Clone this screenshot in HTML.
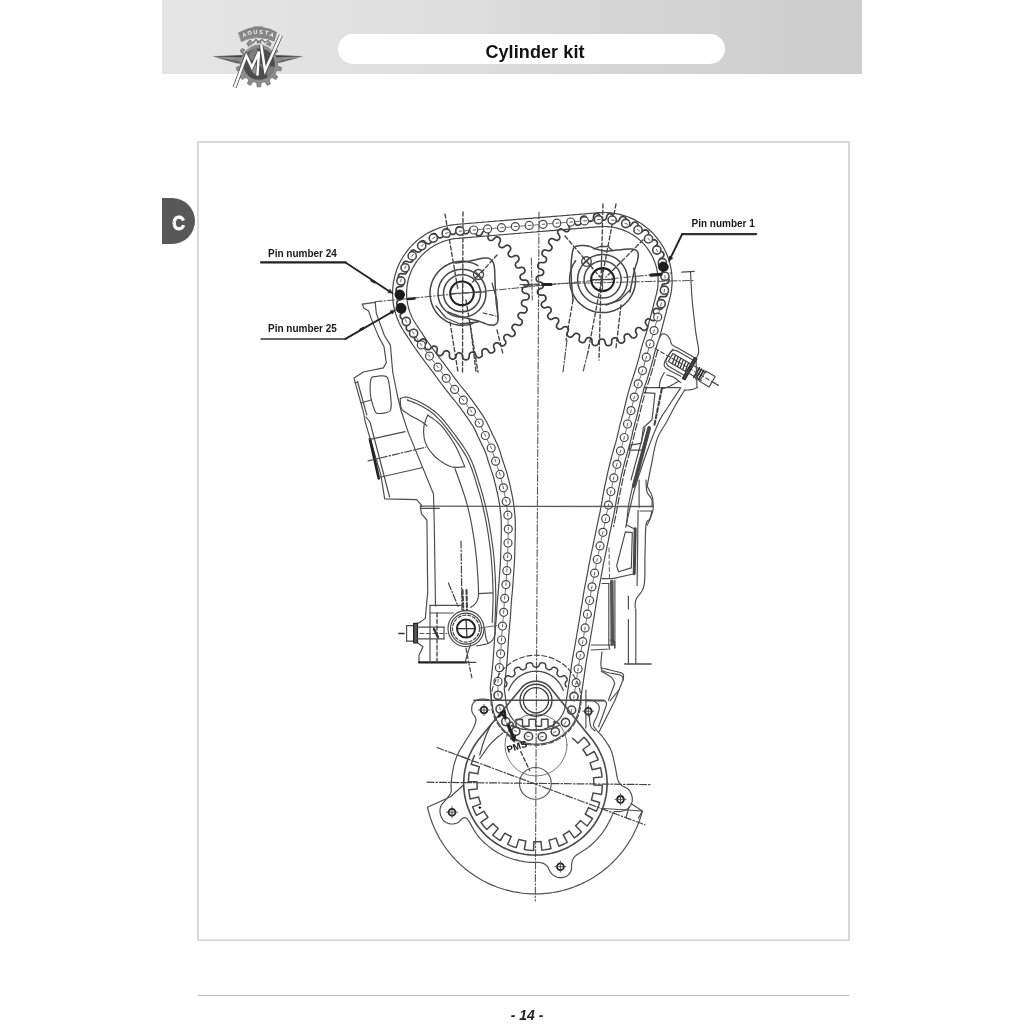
<!DOCTYPE html>
<html><head><meta charset="utf-8"><title>Cylinder kit</title>
<style>
html,body{margin:0;padding:0;background:#fff;}
body{width:1024px;height:1024px;position:relative;overflow:hidden;font-family:"Liberation Sans",sans-serif;}
.hdr{position:absolute;left:162px;top:0;width:700px;height:73.5px;background:linear-gradient(90deg,#e5e5e5 0%,#e0e0e0 35%,#d4d4d4 70%,#cdcdcd 100%);}
.pill{position:absolute;left:338px;top:34px;width:387px;height:30px;border-radius:15px;background:#fff;}
.title{position:absolute;left:338px;top:34px;width:387px;height:30px;line-height:36px;text-align:center;font-weight:bold;font-size:18px;color:#111;letter-spacing:0.1px;text-indent:7px;}
.tab{position:absolute;left:162px;top:197.7px;width:33px;height:46.4px;background:#585858;border-radius:0 23.2px 23.2px 0;}
.tab span{position:absolute;left:0;top:0;width:33px;height:46.4px;color:#fff;font-weight:bold;font-size:20.5px;line-height:49.4px;text-align:center;transform:scaleX(0.86);-webkit-text-stroke:0.8px #fff;}
.frame{position:absolute;left:197px;top:141px;width:651px;height:797px;border:1px solid #c9c9c9;background:#fff;}
.fline{position:absolute;left:197.5px;top:994.8px;width:651.5px;height:1.3px;background:#b9b9b9;}
.pg{position:absolute;left:427px;top:1005.6px;width:200px;text-align:center;font-size:14px;font-weight:bold;font-style:italic;color:#222;line-height:18px;}
.lbl,.title,.pg,.tab{filter:blur(0.35px);}
.lbl{position:absolute;font-weight:bold;font-size:10px;color:#1a1a1a;line-height:12px;white-space:nowrap;}
svg{position:absolute;left:0;top:0;}
</style></head><body>
<div class="hdr"></div>
<div class="pill"></div>
<div class="title">Cylinder kit</div>
<div class="tab"><span>C</span></div>
<div class="fline"></div>
<div class="pg">- 14 -</div>
<div class="lbl" style="left:268px;top:247.5px;">Pin number 24</div>
<div class="lbl" style="left:268px;top:322.8px;">Pin number 25</div>
<div class="lbl" style="left:691.5px;top:217.6px;">Pin number 1</div>
<svg width="1024" height="1024" viewBox="0 0 1024 1024" stroke-linecap="round" stroke-linejoin="round">
<defs><filter id="bl" x="0" y="0" width="1024" height="1024" filterUnits="userSpaceOnUse"><feGaussianBlur stdDeviation="0.75"/></filter><filter id="bl2" x="0" y="0" width="1024" height="1024" filterUnits="userSpaceOnUse"><feGaussianBlur stdDeviation="0.35"/></filter></defs>
<rect x="197.97" y="141.85" width="651.1" height="798.25" fill="none" stroke="#d5d5d5" stroke-width="1.8"/>
<!--LOGOSTART--><g filter="url(#bl2)"><polygon points="212.5,56 242,55.6 242,63.6 237,63.2" fill="#8e8e8e"/>
<polygon points="303.5,56 276,55.6 276,63 280,62.6" fill="#8e8e8e"/>
<polygon points="212,56.2 244,55.2 244,57 " fill="#2e2e2e"/>
<polygon points="304,56.2 275,55.2 275,57" fill="#2e2e2e"/>
<polygon points="214,57 242,61.5 242,63.8 236,63.2" fill="#5e5e5e" opacity="0.8"/>
<polygon points="302,57 276,61 276,63.2 281,62.6" fill="#5e5e5e" opacity="0.8"/>
<polygon points="277.7,65.9 281.7,67.5 281.0,70.8 276.6,70.5 275.0,73.8 277.9,77.0 275.8,79.7 272.0,77.5 269.2,79.8 270.4,84.0 267.3,85.4 264.9,81.9 261.3,82.7 260.6,86.9 257.2,86.9 256.5,82.6 253.0,81.8 250.5,85.4 247.4,83.9 248.7,79.7 245.9,77.5 242.1,79.6 240.0,76.9 242.9,73.7 241.3,70.4 237.0,70.7 236.2,67.4 240.3,65.7 240.3,62.1 236.3,60.5 237.0,57.2 241.4,57.5 243.0,54.2 240.1,51.0 242.2,48.3 246.0,50.5 248.8,48.2 247.6,44.0 250.7,42.6 253.1,46.1 256.7,45.3 257.4,41.1 260.8,41.1 261.5,45.4 265.0,46.2 267.5,42.6 270.6,44.1 269.3,48.3 272.1,50.5 275.9,48.4 278.0,51.1 275.1,54.3 276.7,57.6 281.0,57.3 281.8,60.6 277.7,62.3" fill="#8c8c8c" stroke="#6a6a6a" stroke-width="0.6"/>
<circle cx="259.0" cy="64.0" r="15.8" fill="#4e4e4e"/>
<path d="M259.2 63.4 L247 58 A15.8 15.8 0 0 1 257 47.8 Z" fill="#7d7d7d"/>
<path d="M259.2 63.4 L268 77 A15.8 15.8 0 0 0 274.5 67 Z" fill="#7d7d7d"/>
<path d="M250 70 L256 64 L257 76 Z" fill="#9a9a9a"/>
<path d="M244.5 52 A17.5 17.5 0 0 1 274.5 53" fill="none" stroke="#d8d8d8" stroke-width="1.4"/>
<path d="M238.6 32.8 Q248 28.2 253.5 27.6 L253.8 26.8 L262.6 26.8 L262.9 27.6 Q270 28.2 276.6 32.2 L274.2 41.2 Q266 37.6 258 37.6 Q249 37.8 241.6 41.6 Z" fill="#858585" stroke="#6f6f6f" stroke-width="0.5"/>
<text x="245.13" y="36.53" font-family="Liberation Sans, sans-serif" font-weight="bold" font-size="5.6" fill="#f4f4f4" text-anchor="middle" transform="rotate(-23.8 245.13 36.53)">A</text>
<text x="250.18" y="34.79" font-family="Liberation Sans, sans-serif" font-weight="bold" font-size="5.6" fill="#f4f4f4" text-anchor="middle" transform="rotate(-14.2 250.18 34.79)">G</text>
<text x="255.44" y="33.91" font-family="Liberation Sans, sans-serif" font-weight="bold" font-size="5.6" fill="#f4f4f4" text-anchor="middle" transform="rotate(-4.7 255.44 33.91)">U</text>
<text x="260.78" y="33.91" font-family="Liberation Sans, sans-serif" font-weight="bold" font-size="5.6" fill="#f4f4f4" text-anchor="middle" transform="rotate(4.8 260.78 33.91)">S</text>
<text x="266.05" y="34.80" font-family="Liberation Sans, sans-serif" font-weight="bold" font-size="5.6" fill="#f4f4f4" text-anchor="middle" transform="rotate(14.3 266.05 34.80)">T</text>
<text x="271.09" y="36.54" font-family="Liberation Sans, sans-serif" font-weight="bold" font-size="5.6" fill="#f4f4f4" text-anchor="middle" transform="rotate(23.8 271.09 36.54)">A</text>
<path d="M247 44 L250 40.5 L253 43 L256 39.5 L259 42 L262 39.5 L265 42.5 L268 40.5 L271 44" fill="none" stroke="#777" stroke-width="1.2"/>
<polyline points="234.6,87.4 246.3,55.6 251.9,67.4 259.0,51.6 257.4,75.6" fill="none" stroke="#4a4a4a" stroke-width="4.0" stroke-linejoin="miter" stroke-linecap="butt"/>
<polyline points="261.2,45.0 265.1,70.6 280.9,35.2" fill="none" stroke="#4a4a4a" stroke-width="4.0" stroke-linejoin="miter" stroke-linecap="butt"/>
<polyline points="234.6,87.4 246.3,55.6 251.9,67.4 259.0,51.6 257.4,75.6" fill="none" stroke="#fbfbfb" stroke-width="2.5" stroke-linejoin="miter" stroke-linecap="butt"/>
<polyline points="261.2,45.0 265.1,70.6 280.9,35.2" fill="none" stroke="#fbfbfb" stroke-width="2.5" stroke-linejoin="miter" stroke-linecap="butt"/></g><!--LOGOEND-->
<g filter="url(#bl)">
<path d="M539.0 212.0 L535.3 901.0" stroke="#5a5a5a" stroke-width="1.125" fill="none" stroke-dasharray="7 2 1.5 2" />
<path d="M375.0 301.8 L672.0 272.8" stroke="#555" stroke-width="1.0499999999999998" fill="none" stroke-dasharray="7 2 1.5 2" />
<path d="M520.0 284.6 L694.0 280.4" stroke="#555" stroke-width="1.0499999999999998" fill="none" stroke-dasharray="7 2 1.5 2" />
<path d="M531.3 258.0 L532.3 300.0" stroke="#555" stroke-width="1.0499999999999998" fill="none" stroke-dasharray="7 2 1.5 2" />
<path d="M445.0 214.0 L458.0 290.0" stroke="#444" stroke-width="1.35" fill="none" stroke-dasharray="4 2.5" />
<path d="M463.0 212.0 L462.5 372.0" stroke="#444" stroke-width="1.35" fill="none" stroke-dasharray="4 2.5" />
<path d="M466.0 300.0 L478.0 372.0" stroke="#444" stroke-width="1.35" fill="none" stroke-dasharray="4 2.5" />
<path d="M450.0 322.0 L458.0 372.0" stroke="#444" stroke-width="1.35" fill="none" stroke-dasharray="4 2.5" />
<path d="M470.0 322.0 L476.0 372.0" stroke="#444" stroke-width="1.35" fill="none" stroke-dasharray="4 2.5" />
<path d="M497.0 330.0 L503.0 354.0" stroke="#444" stroke-width="1.35" fill="none" stroke-dasharray="4 2.5" />
<path d="M497.0 255.0 L470.0 285.0" stroke="#444" stroke-width="1.35" fill="none" stroke-dasharray="4 2.5" />
<path d="M603.0 204.0 L599.0 360.0" stroke="#444" stroke-width="1.35" fill="none" stroke-dasharray="4 2.5" />
<path d="M616.0 204.0 L588.0 352.0" stroke="#444" stroke-width="1.35" fill="none" stroke-dasharray="4 2.5" />
<path d="M573.0 300.0 L566.0 340.0" stroke="#444" stroke-width="1.35" fill="none" stroke-dasharray="4 2.5" />
<path d="M621.0 305.0 L616.0 348.0" stroke="#444" stroke-width="1.35" fill="none" stroke-dasharray="4 2.5" />
<path d="M565.0 236.0 L600.0 277.0" stroke="#444" stroke-width="1.35" fill="none" stroke-dasharray="4 2.5" />
<path d="M643.0 240.0 L606.0 277.0" stroke="#444" stroke-width="1.35" fill="none" stroke-dasharray="4 2.5" />
<path d="M539.0 285.0 L523.0 285.0" stroke="#444" stroke-width="1.35" fill="none" stroke-dasharray="4 2.5" />
<path d="M567.0 340.0 L563.0 372.0" stroke="#555" stroke-width="1.2000000000000002" fill="none" stroke-dasharray="7 2 1.5 2" />
<path d="M588.0 352.0 L583.0 372.0" stroke="#555" stroke-width="1.2000000000000002" fill="none" stroke-dasharray="7 2 1.5 2" />
<path d="M525.7 293.3 L526.8 293.5 L527.8 293.9 L528.5 294.6 L529.0 295.6 L529.1 296.8 L528.9 298.0 L528.3 298.9 L527.5 299.5 L526.4 299.8 L525.4 299.9 L524.3 300.0 L523.2 300.2 L522.4 300.8 L521.8 301.6 L521.5 302.6 L521.5 303.7 L521.8 304.7 L522.4 305.5 L523.3 306.0 L524.3 306.4 L525.3 306.8 L526.2 307.4 L526.8 308.3 L527.1 309.3 L526.9 310.5 L526.4 311.6 L525.7 312.5 L524.7 312.9 L523.7 312.9 L522.6 312.8 L521.5 312.6 L520.5 312.7 L519.5 313.0 L518.8 313.7 L518.2 314.7 L518.0 315.7 L518.1 316.7 L518.6 317.6 L519.3 318.4 L520.2 319.0 L521.2 319.6 L521.9 320.3 L522.3 321.3 L522.3 322.4 L521.9 323.5 L521.2 324.5 L520.3 325.2 L519.3 325.4 L518.3 325.2 L517.2 324.9 L516.2 324.5 L515.2 324.3 L514.2 324.4 L513.3 325.0 L512.6 325.8 L512.1 326.7 L512.0 327.8 L512.3 328.7 L512.9 329.6 L513.6 330.4 L514.4 331.2 L515.0 332.1 L515.2 333.1 L515.0 334.2 L514.4 335.2 L513.5 336.0 L512.4 336.5 L511.4 336.5 L510.4 336.1 L509.5 335.5 L508.6 334.9 L507.6 334.5 L506.6 334.5 L505.6 334.8 L504.7 335.4 L504.1 336.3 L503.8 337.3 L503.8 338.3 L504.2 339.3 L504.8 340.2 L505.4 341.1 L505.8 342.1 L505.8 343.1 L505.3 344.2 L504.5 345.1 L503.5 345.7 L502.4 345.9 L501.4 345.7 L500.5 345.1 L499.7 344.3 L498.9 343.6 L498.0 343.0 L497.1 342.7 L496.0 342.8 L495.1 343.3 L494.3 344.0 L493.7 344.9 L493.6 345.9 L493.8 346.9 L494.1 347.9 L494.5 349.0 L494.7 350.0 L494.5 351.0 L493.8 351.9 L492.8 352.6 L491.7 353.0 L490.6 353.0 L489.6 352.6 L488.9 351.9 L488.3 350.9 L487.7 350.0 L486.9 349.3 L486.0 348.8 L485.0 348.7 L484.0 348.9 L483.0 349.5 L482.3 350.2 L482.0 351.2 L481.9 352.2 L482.1 353.3 L482.2 354.4 L482.2 355.4 L481.8 356.4 L480.9 357.1 L479.8 357.6 L478.6 357.8 L477.6 357.5 L476.7 356.9 L476.1 356.0 L475.7 355.0 L475.3 354.0 L474.8 353.1 L474.0 352.5 L473.0 352.2 L471.9 352.2 L470.9 352.5 L470.1 353.1 L469.5 353.9 L469.3 355.0 L469.2 356.1 L469.1 357.1 L468.8 358.2 L468.2 359.0 L467.3 359.6 L466.1 359.8 L464.9 359.7 L463.9 359.2 L463.2 358.5 L462.8 357.5 L462.6 356.4 L462.4 355.3 L462.1 354.3 L461.4 353.6 L460.5 353.0 L459.5 352.8 L458.4 352.9 L457.5 353.3 L456.8 354.1 L456.3 355.0 L456.0 356.1 L455.7 357.1 L455.2 358.0 L454.4 358.7 L453.4 359.1 L452.2 359.1 L451.0 358.7 L450.1 358.0 L449.6 357.2 L449.4 356.1 L449.5 355.0 L449.5 353.9 L449.4 352.9 L448.9 352.0 L448.2 351.3 L447.2 350.9 L446.1 350.7 L445.1 351.0 L444.3 351.5 L443.6 352.3 L443.1 353.3 L442.6 354.3 L441.9 355.1 L441.0 355.6 L439.9 355.7 L438.7 355.5 L437.7 354.9 L437.0 354.0 L436.6 353.1 L436.7 352.0 L436.9 350.9 L437.2 349.9 L437.3 348.8 L437.0 347.9 L436.4 347.0 L435.5 346.4 L434.5 346.1 L433.5 346.1 L432.6 346.4 L431.8 347.1 L431.1 347.9 L430.3 348.8 L429.5 349.4 L428.5 349.7 L427.4 349.7 L426.3 349.2 L425.4 348.4 L424.9 347.4 L424.8 346.4 L425.0 345.3 L425.5 344.3 L426.0 343.4 L426.3 342.4 L426.2 341.4 L425.8 340.4 L425.1 339.6 L424.2 339.1 L423.1 338.9 L422.2 339.0 L421.2 339.5 L420.4 340.2 L419.5 340.9 L418.6 341.3 L417.5 341.4 L416.5 341.1 L415.5 340.4 L414.8 339.4 L414.5 338.4 L414.6 337.3 L415.0 336.4 L415.7 335.5 L416.4 334.7 L416.9 333.7 L417.0 332.8 L416.8 331.7 L416.3 330.8 L415.5 330.1 L414.5 329.7 L413.5 329.6 L412.5 329.9 L411.6 330.4 L410.6 330.9 L409.5 331.1 L408.5 331.0 L407.5 330.5 L406.7 329.6 L406.2 328.5 L406.2 327.4 L406.5 326.4 L407.1 325.6 L408.0 324.9 L408.8 324.1 L409.5 323.3 L409.8 322.4 L409.8 321.4 L409.5 320.4 L408.9 319.5 L408.0 318.9 L407.1 318.6 L406.0 318.7 L405.0 319.0 L403.9 319.2 L402.8 319.3 L401.9 318.9 L401.0 318.2 L400.4 317.2 L400.2 316.0 L400.3 314.9 L400.8 314.0 L401.6 313.3 L402.6 312.8 L403.6 312.3 L404.4 311.6 L404.9 310.8 L405.2 309.8 L405.0 308.7 L404.6 307.7 L403.9 307.0 L403.0 306.5 L402.0 306.4 L400.9 306.4 L399.8 306.5 L398.7 306.3 L397.9 305.8 L397.2 304.9 L396.8 303.7 L396.8 302.5 L397.2 301.5 L397.9 300.7 L398.8 300.2 L399.8 299.9 L400.9 299.6 L401.8 299.1 L402.6 298.4 L403.0 297.5 L403.1 296.4 L402.9 295.4 L402.3 294.5 L401.6 293.8 L400.6 293.5 L399.5 293.3 L398.4 293.1 L397.4 292.7 L396.7 292.0 L396.2 291.0 L396.1 289.8 L396.3 288.6 L396.9 287.7 L397.7 287.1 L398.8 286.8 L399.8 286.7 L400.9 286.6 L402.0 286.4 L402.8 285.8 L403.4 285.0 L403.7 284.0 L403.7 282.9 L403.4 281.9 L402.8 281.1 L401.9 280.6 L400.9 280.2 L399.9 279.8 L399.0 279.2 L398.4 278.3 L398.1 277.3 L398.3 276.1 L398.8 275.0 L399.5 274.1 L400.5 273.7 L401.5 273.7 L402.6 273.8 L403.7 274.0 L404.7 273.9 L405.7 273.6 L406.4 272.9 L407.0 271.9 L407.2 270.9 L407.1 269.9 L406.6 269.0 L405.9 268.2 L405.0 267.6 L404.0 267.0 L403.3 266.3 L402.9 265.3 L402.9 264.2 L403.3 263.1 L404.0 262.1 L404.9 261.4 L405.9 261.2 L406.9 261.4 L408.0 261.8 L409.0 262.1 L410.0 262.3 L411.0 262.2 L411.9 261.6 L412.6 260.8 L413.1 259.9 L413.2 258.8 L412.9 257.9 L412.3 257.0 L411.6 256.2 L410.8 255.4 L410.2 254.5 L410.0 253.5 L410.2 252.4 L410.8 251.4 L411.7 250.6 L412.8 250.1 L413.8 250.1 L414.8 250.5 L415.7 251.1 L416.6 251.7 L417.6 252.1 L418.6 252.1 L419.6 251.8 L420.5 251.2 L421.1 250.3 L421.4 249.3 L421.4 248.3 L421.0 247.3 L420.4 246.4 L419.8 245.5 L419.4 244.5 L419.4 243.5 L419.9 242.4 L420.7 241.5 L421.7 240.9 L422.8 240.7 L423.8 240.9 L424.7 241.5 L425.5 242.3 L426.3 243.0 L427.2 243.6 L428.1 243.9 L429.2 243.8 L430.1 243.3 L430.9 242.6 L431.5 241.7 L431.6 240.7 L431.4 239.7 L431.1 238.7 L430.7 237.6 L430.5 236.6 L430.7 235.6 L431.4 234.7 L432.4 234.0 L433.5 233.6 L434.6 233.6 L435.6 234.0 L436.3 234.7 L436.9 235.7 L437.5 236.6 L438.3 237.3 L439.2 237.8 L440.2 237.9 L441.2 237.7 L442.2 237.1 L442.9 236.4 L443.2 235.4 L443.3 234.4 L443.1 233.3 L443.0 232.2 L443.0 231.2 L443.4 230.2 L444.3 229.5 L445.4 229.0 L446.6 228.8 L447.6 229.1 L448.5 229.7 L449.1 230.6 L449.5 231.6 L449.9 232.6 L450.4 233.5 L451.2 234.1 L452.2 234.4 L453.3 234.4 L454.3 234.1 L455.1 233.5 L455.7 232.7 L455.9 231.6 L456.0 230.5 L456.1 229.5 L456.4 228.4 L457.0 227.6 L457.9 227.0 L459.1 226.8 L460.3 226.9 L461.3 227.4 L462.0 228.1 L462.4 229.1 L462.6 230.2 L462.8 231.3 L463.1 232.3 L463.8 233.0 L464.7 233.6 L465.7 233.8 L466.8 233.7 L467.7 233.3 L468.4 232.5 L468.9 231.6 L469.2 230.5 L469.5 229.5 L470.0 228.6 L470.8 227.9 L471.8 227.5 L473.0 227.5 L474.2 227.9 L475.1 228.6 L475.6 229.4 L475.8 230.5 L475.7 231.6 L475.7 232.7 L475.8 233.7 L476.3 234.6 L477.0 235.3 L478.0 235.7 L479.1 235.9 L480.1 235.6 L480.9 235.1 L481.6 234.3 L482.1 233.3 L482.6 232.3 L483.3 231.5 L484.2 231.0 L485.3 230.9 L486.5 231.1 L487.5 231.7 L488.2 232.6 L488.6 233.5 L488.5 234.6 L488.3 235.7 L488.0 236.7 L487.9 237.8 L488.2 238.7 L488.8 239.6 L489.7 240.2 L490.7 240.5 L491.7 240.5 L492.6 240.2 L493.4 239.5 L494.2 238.7 L494.9 237.8 L495.7 237.2 L496.7 236.9 L497.8 236.9 L498.9 237.4 L499.8 238.2 L500.3 239.2 L500.4 240.2 L500.2 241.3 L499.7 242.3 L499.2 243.2 L498.9 244.2 L499.0 245.2 L499.4 246.2 L500.1 247.0 L501.0 247.5 L502.1 247.7 L503.0 247.6 L504.0 247.1 L504.8 246.4 L505.7 245.7 L506.6 245.3 L507.7 245.2 L508.7 245.5 L509.7 246.2 L510.4 247.2 L510.7 248.2 L510.6 249.3 L510.2 250.2 L509.5 251.1 L508.8 251.9 L508.3 252.9 L508.2 253.8 L508.4 254.9 L508.9 255.8 L509.7 256.5 L510.7 256.9 L511.7 257.0 L512.7 256.7 L513.6 256.2 L514.6 255.7 L515.7 255.5 L516.7 255.6 L517.7 256.1 L518.5 257.0 L519.0 258.1 L519.0 259.2 L518.7 260.2 L518.1 261.0 L517.2 261.8 L516.4 262.5 L515.7 263.3 L515.4 264.2 L515.4 265.2 L515.7 266.2 L516.3 267.1 L517.2 267.7 L518.1 268.0 L519.2 267.9 L520.2 267.6 L521.3 267.4 L522.4 267.3 L523.3 267.7 L524.2 268.4 L524.8 269.4 L525.0 270.6 L524.9 271.7 L524.4 272.6 L523.6 273.3 L522.6 273.8 L521.6 274.3 L520.8 275.0 L520.3 275.8 L520.0 276.8 L520.2 277.9 L520.6 278.9 L521.3 279.6 L522.2 280.1 L523.2 280.2 L524.3 280.2 L525.4 280.1 L526.5 280.3 L527.3 280.8 L528.0 281.7 L528.4 282.9 L528.4 284.1 L528.0 285.1 L527.3 285.9 L526.4 286.4 L525.4 286.7 L524.3 287.0 L523.4 287.5 L522.6 288.2 L522.2 289.1 L522.1 290.2 L522.3 291.2 L522.9 292.1 L523.6 292.8 L524.6 293.1 L525.7 293.3" stroke="#3c3c3c" stroke-width="1.6800000000000002" fill="none" />
<path d="M668.8 279.0 L669.0 280.2 L668.9 281.4 L668.4 282.4 L667.6 283.1 L666.6 283.5 L665.6 283.7 L664.5 283.8 L663.4 284.0 L662.6 284.5 L662.0 285.3 L661.6 286.3 L661.6 287.4 L661.9 288.4 L662.5 289.2 L663.4 289.8 L664.4 290.1 L665.5 290.5 L666.4 291.0 L667.1 291.8 L667.4 292.8 L667.4 294.0 L667.0 295.1 L666.4 296.0 L665.5 296.6 L664.4 296.7 L663.3 296.7 L662.3 296.5 L661.2 296.6 L660.3 296.9 L659.5 297.5 L658.9 298.5 L658.7 299.5 L658.8 300.6 L659.2 301.5 L659.9 302.2 L660.9 302.8 L661.8 303.3 L662.6 304.0 L663.1 304.9 L663.3 306.0 L663.0 307.2 L662.4 308.2 L661.5 308.9 L660.6 309.3 L659.5 309.2 L658.5 308.9 L657.4 308.6 L656.4 308.4 L655.4 308.5 L654.5 309.0 L653.8 309.8 L653.3 310.7 L653.2 311.8 L653.4 312.8 L654.0 313.6 L654.8 314.4 L655.6 315.1 L656.2 316.0 L656.5 316.9 L656.5 318.0 L656.0 319.1 L655.1 320.0 L654.2 320.6 L653.1 320.7 L652.1 320.4 L651.2 319.9 L650.2 319.3 L649.2 318.9 L648.2 318.8 L647.3 319.1 L646.4 319.7 L645.7 320.6 L645.4 321.6 L645.4 322.6 L645.8 323.6 L646.4 324.5 L647.0 325.4 L647.5 326.3 L647.6 327.3 L647.3 328.4 L646.6 329.3 L645.6 330.0 L644.5 330.4 L643.5 330.3 L642.6 329.8 L641.7 329.1 L640.9 328.4 L640.0 327.8 L639.1 327.5 L638.1 327.5 L637.1 328.0 L636.3 328.7 L635.7 329.6 L635.6 330.6 L635.7 331.6 L636.1 332.6 L636.6 333.6 L636.8 334.6 L636.7 335.7 L636.2 336.6 L635.3 337.4 L634.2 337.9 L633.0 338.0 L632.0 337.7 L631.2 337.0 L630.6 336.2 L629.9 335.3 L629.2 334.5 L628.3 334.0 L627.3 333.9 L626.3 334.1 L625.3 334.6 L624.6 335.4 L624.2 336.3 L624.2 337.3 L624.4 338.4 L624.6 339.5 L624.6 340.5 L624.3 341.5 L623.6 342.3 L622.5 342.9 L621.4 343.2 L620.2 343.0 L619.3 342.5 L618.7 341.7 L618.2 340.7 L617.8 339.7 L617.2 338.8 L616.5 338.2 L615.5 337.8 L614.4 337.8 L613.4 338.1 L612.5 338.7 L612.0 339.6 L611.7 340.6 L611.7 341.6 L611.7 342.7 L611.5 343.8 L610.9 344.7 L610.1 345.3 L608.9 345.7 L607.7 345.7 L606.7 345.3 L605.9 344.6 L605.4 343.7 L605.2 342.6 L604.9 341.6 L604.6 340.6 L604.0 339.8 L603.1 339.2 L602.1 339.0 L601.0 339.1 L600.0 339.5 L599.3 340.2 L598.8 341.1 L598.6 342.2 L598.3 343.2 L597.9 344.2 L597.2 345.0 L596.2 345.5 L595.1 345.6 L593.9 345.3 L592.9 344.7 L592.3 343.9 L592.0 342.9 L592.0 341.8 L592.0 340.7 L591.9 339.7 L591.4 338.7 L590.7 338.0 L589.7 337.6 L588.6 337.5 L587.6 337.7 L586.8 338.2 L586.1 339.0 L585.7 340.0 L585.2 341.0 L584.6 341.8 L583.8 342.4 L582.7 342.7 L581.5 342.6 L580.4 342.1 L579.6 341.3 L579.1 340.3 L579.1 339.3 L579.3 338.2 L579.5 337.2 L579.6 336.1 L579.4 335.1 L578.8 334.3 L577.9 333.6 L576.9 333.3 L575.9 333.3 L574.9 333.6 L574.2 334.3 L573.5 335.1 L572.8 336.0 L572.0 336.7 L571.1 337.2 L570.0 337.2 L568.9 336.8 L567.9 336.1 L567.3 335.2 L567.0 334.1 L567.2 333.1 L567.6 332.1 L568.1 331.1 L568.4 330.1 L568.3 329.1 L568.0 328.1 L567.2 327.3 L566.3 326.8 L565.3 326.5 L564.3 326.7 L563.4 327.2 L562.6 327.9 L561.7 328.6 L560.8 329.1 L559.8 329.3 L558.8 329.1 L557.7 328.5 L556.9 327.6 L556.5 326.6 L556.5 325.6 L556.8 324.6 L557.5 323.7 L558.1 322.8 L558.6 321.9 L558.8 320.9 L558.6 319.9 L558.1 318.9 L557.3 318.2 L556.4 317.8 L555.4 317.7 L554.4 318.0 L553.4 318.5 L552.4 319.0 L551.4 319.4 L550.4 319.4 L549.4 318.9 L548.5 318.1 L547.9 317.1 L547.7 316.0 L547.9 315.0 L548.5 314.1 L549.3 313.3 L550.1 312.6 L550.8 311.8 L551.2 310.9 L551.2 309.9 L550.9 308.8 L550.3 307.9 L549.4 307.3 L548.5 307.0 L547.4 307.1 L546.4 307.4 L545.3 307.7 L544.3 307.9 L543.3 307.7 L542.4 307.0 L541.7 306.1 L541.3 304.9 L541.4 303.8 L541.8 302.8 L542.5 302.1 L543.4 301.5 L544.4 301.0 L545.2 300.3 L545.8 299.5 L546.0 298.5 L545.9 297.4 L545.5 296.4 L544.8 295.7 L544.0 295.2 L542.9 295.0 L541.8 295.1 L540.7 295.2 L539.7 295.1 L538.8 294.7 L538.0 293.9 L537.5 292.8 L537.4 291.6 L537.7 290.5 L538.3 289.7 L539.1 289.1 L540.2 288.7 L541.2 288.4 L542.2 287.9 L542.9 287.3 L543.3 286.3 L543.5 285.3 L543.3 284.2 L542.8 283.3 L542.0 282.7 L541.0 282.3 L539.9 282.1 L538.9 282.0 L537.8 281.7 L537.0 281.1 L536.4 280.2 L536.2 279.0 L536.3 277.8 L536.8 276.8 L537.6 276.1 L538.6 275.7 L539.6 275.5 L540.7 275.4 L541.8 275.2 L542.6 274.7 L543.2 273.9 L543.6 272.9 L543.6 271.8 L543.3 270.8 L542.7 270.0 L541.8 269.4 L540.8 269.1 L539.7 268.7 L538.8 268.2 L538.1 267.4 L537.8 266.4 L537.8 265.2 L538.2 264.1 L538.8 263.2 L539.7 262.6 L540.8 262.5 L541.9 262.5 L542.9 262.7 L544.0 262.6 L544.9 262.3 L545.7 261.7 L546.3 260.7 L546.5 259.7 L546.4 258.6 L546.0 257.7 L545.3 257.0 L544.3 256.4 L543.4 255.9 L542.6 255.2 L542.1 254.3 L541.9 253.2 L542.2 252.0 L542.8 251.0 L543.7 250.3 L544.6 249.9 L545.7 250.0 L546.7 250.3 L547.8 250.6 L548.8 250.8 L549.8 250.7 L550.7 250.2 L551.4 249.4 L551.9 248.5 L552.0 247.4 L551.8 246.4 L551.2 245.6 L550.4 244.8 L549.6 244.1 L549.0 243.2 L548.7 242.3 L548.7 241.2 L549.2 240.1 L550.1 239.2 L551.0 238.6 L552.1 238.5 L553.1 238.8 L554.0 239.3 L555.0 239.9 L556.0 240.3 L557.0 240.4 L557.9 240.1 L558.8 239.5 L559.5 238.6 L559.8 237.6 L559.8 236.6 L559.4 235.6 L558.8 234.7 L558.2 233.8 L557.7 232.9 L557.6 231.9 L557.9 230.8 L558.6 229.9 L559.6 229.2 L560.7 228.8 L561.7 228.9 L562.6 229.4 L563.5 230.1 L564.3 230.8 L565.2 231.4 L566.1 231.7 L567.1 231.7 L568.1 231.2 L568.9 230.5 L569.5 229.6 L569.6 228.6 L569.5 227.6 L569.1 226.6 L568.6 225.6 L568.4 224.6 L568.5 223.5 L569.0 222.6 L569.9 221.8 L571.0 221.3 L572.2 221.2 L573.2 221.5 L574.0 222.2 L574.6 223.0 L575.3 223.9 L576.0 224.7 L576.9 225.2 L577.9 225.3 L578.9 225.1 L579.9 224.6 L580.6 223.8 L581.0 222.9 L581.0 221.9 L580.8 220.8 L580.6 219.7 L580.6 218.7 L580.9 217.7 L581.6 216.9 L582.7 216.3 L583.8 216.0 L585.0 216.2 L585.9 216.7 L586.5 217.5 L587.0 218.5 L587.4 219.5 L588.0 220.4 L588.7 221.0 L589.7 221.4 L590.8 221.4 L591.8 221.1 L592.7 220.5 L593.2 219.6 L593.5 218.6 L593.5 217.6 L593.5 216.5 L593.7 215.4 L594.3 214.5 L595.1 213.9 L596.3 213.5 L597.5 213.5 L598.5 213.9 L599.3 214.6 L599.8 215.5 L600.0 216.6 L600.3 217.6 L600.6 218.6 L601.2 219.4 L602.1 220.0 L603.1 220.2 L604.2 220.1 L605.2 219.7 L605.9 219.0 L606.4 218.1 L606.6 217.0 L606.9 216.0 L607.3 215.0 L608.0 214.2 L609.0 213.7 L610.1 213.6 L611.3 213.9 L612.3 214.5 L612.9 215.3 L613.2 216.3 L613.2 217.4 L613.2 218.5 L613.3 219.5 L613.8 220.5 L614.5 221.2 L615.5 221.6 L616.6 221.7 L617.6 221.5 L618.4 221.0 L619.1 220.2 L619.5 219.2 L620.0 218.2 L620.6 217.4 L621.4 216.8 L622.5 216.5 L623.7 216.6 L624.8 217.1 L625.6 217.9 L626.1 218.9 L626.1 219.9 L625.9 221.0 L625.7 222.0 L625.6 223.1 L625.8 224.1 L626.4 224.9 L627.3 225.6 L628.3 225.9 L629.3 225.9 L630.3 225.6 L631.0 224.9 L631.7 224.1 L632.4 223.2 L633.2 222.5 L634.1 222.0 L635.2 222.0 L636.3 222.4 L637.3 223.1 L637.9 224.0 L638.2 225.1 L638.0 226.1 L637.6 227.1 L637.1 228.1 L636.8 229.1 L636.9 230.1 L637.2 231.1 L638.0 231.9 L638.9 232.4 L639.9 232.7 L640.9 232.5 L641.8 232.0 L642.6 231.3 L643.5 230.6 L644.4 230.1 L645.4 229.9 L646.4 230.1 L647.5 230.7 L648.3 231.6 L648.7 232.6 L648.7 233.6 L648.4 234.6 L647.7 235.5 L647.1 236.4 L646.6 237.3 L646.4 238.3 L646.6 239.3 L647.1 240.3 L647.9 241.0 L648.8 241.4 L649.8 241.5 L650.8 241.2 L651.8 240.7 L652.8 240.2 L653.8 239.8 L654.8 239.8 L655.8 240.3 L656.7 241.1 L657.3 242.1 L657.5 243.2 L657.3 244.2 L656.7 245.1 L655.9 245.9 L655.1 246.6 L654.4 247.4 L654.0 248.3 L654.0 249.3 L654.3 250.4 L654.9 251.3 L655.8 251.9 L656.7 252.2 L657.8 252.1 L658.8 251.8 L659.9 251.5 L660.9 251.3 L661.9 251.5 L662.8 252.2 L663.5 253.1 L663.9 254.3 L663.8 255.4 L663.4 256.4 L662.7 257.1 L661.8 257.7 L660.8 258.2 L660.0 258.9 L659.4 259.7 L659.2 260.7 L659.3 261.8 L659.7 262.8 L660.4 263.5 L661.2 264.0 L662.3 264.2 L663.4 264.1 L664.5 264.0 L665.5 264.1 L666.4 264.5 L667.2 265.3 L667.7 266.4 L667.8 267.6 L667.5 268.7 L666.9 269.5 L666.1 270.1 L665.0 270.5 L664.0 270.8 L663.0 271.3 L662.3 271.9 L661.9 272.9 L661.7 273.9 L661.9 275.0 L662.4 275.9 L663.2 276.5 L664.2 276.9 L665.3 277.1 L666.3 277.2 L667.4 277.5 L668.2 278.1 L668.8 279.0" stroke="#3c3c3c" stroke-width="1.6800000000000002" fill="none" />
<circle cx="462.0" cy="293.3" r="11.8" stroke="#222" stroke-width="2.0999999999999996" fill="none"/>
<circle cx="462.0" cy="293.3" r="18.5" stroke="#474747" stroke-width="1.5" fill="none"/>
<circle cx="462.0" cy="293.3" r="24.0" stroke="#474747" stroke-width="1.5" fill="none"/>
<path d="M472.9 323.4 L470.5 324.2 L468.0 324.7 L465.5 325.1 L462.9 325.3 L460.3 325.3 L457.8 325.0 L455.2 324.6 L452.8 323.9 L450.3 323.1 L448.0 322.1 L445.7 320.8 L443.6 319.4 L441.5 317.9 L439.6 316.2 L437.8 314.3 L436.2 312.3 L434.8 310.2 L433.5 307.9 L432.5 305.6 L431.6 303.2 L430.9 300.7 L430.4 298.2 L430.1 295.6 L430.0 293.1 L430.1 290.5 L430.4 288.0 L431.0 285.5 L431.7 283.0 L432.6 280.6 L433.7 278.3 L435.0 276.1 L436.5 274.0 L438.1 272.0 L439.9 270.1 L441.9 268.4 L443.9 266.9 L446.1 265.5 L448.4 264.3 L450.7 263.3 L453.2 262.5 L455.7 261.9 L458.2 261.5 L460.8 261.3 L463.3 261.3 L465.9 261.5 L468.4 262.0 L470.9 262.6 L473.4 263.4 L475.7 264.4 L478.0 265.6" stroke="#474747" stroke-width="1.5" fill="none" />
<path d="M455.0 263.0 L456.2 262.9 L457.7 262.7 L459.6 262.4 L461.6 262.2 L463.8 261.9 L466.0 261.6 L468.1 261.3 L470.0 261.0 L471.9 260.6 L473.8 260.2 L475.7 259.8 L477.6 259.3 L479.4 258.9 L481.1 258.5 L482.6 258.2 L484.0 258.0 L485.1 257.9 L486.1 257.9 L486.9 257.9 L487.6 257.9 L488.2 258.1 L488.8 258.3 L489.4 258.6 L490.0 259.0 L490.6 259.4 L491.2 259.9 L491.8 260.5 L492.3 261.1 L492.8 261.9 L493.3 262.8 L493.7 263.8 L494.0 265.0 L494.3 266.4 L494.5 268.0 L494.6 269.7 L494.7 271.6 L494.8 273.6 L494.8 275.7 L494.9 277.8 L495.0 280.0 L495.1 282.3 L495.2 284.7 L495.3 287.2 L495.4 289.8 L495.6 292.4 L495.7 295.0 L495.8 297.6 L496.0 300.0 L496.2 302.4 L496.5 304.9 L496.9 307.4 L497.2 309.9 L497.5 312.2 L497.8 314.4 L497.9 316.3 L498.0 318.0 L498.0 319.4 L497.9 320.5 L497.7 321.3 L497.5 322.1 L497.2 322.6 L496.9 323.1 L496.5 323.6 L496.0 324.0 L495.5 324.4 L494.9 324.7 L494.3 325.0 L493.6 325.1 L492.9 325.2 L492.0 325.2 L491.1 325.1 L490.0 325.0 L488.8 324.7 L487.5 324.4 L486.1 323.9 L484.6 323.3 L483.1 322.7 L481.4 322.1 L479.7 321.5 L478.0 321.0 L476.2 320.5 L474.2 320.0 L472.2 319.5 L470.1 319.1 L468.0 318.6 L466.0 318.1 L463.9 317.5 L462.0 317.0 L460.1 316.4 L458.0 315.7 L456.0 315.0 L454.0 314.2 L452.1 313.6 L450.5 312.9 L449.1 312.4 L448.0 312.0" stroke="#474747" stroke-width="1.5" fill="none" />
<path d="M492.0 283.0 L497.0 300.0 L498.0 318.0" stroke="#474747" stroke-width="1.2000000000000002" fill="none" />
<circle cx="478.5" cy="274.5" r="5.0" stroke="#474747" stroke-width="1.35" fill="none"/>
<path d="M475.0 271.0 L482.0 278.0" stroke="#474747" stroke-width="1.0499999999999998" fill="none" />
<path d="M475.0 278.0 L482.0 271.0" stroke="#474747" stroke-width="1.0499999999999998" fill="none" />
<path d="M452.0 293.5 L486.0 292.0" stroke="#444" stroke-width="1.0499999999999998" fill="none" />
<path d="M462.5 283.0 L462.5 304.0" stroke="#444" stroke-width="1.0499999999999998" fill="none" />
<path d="M436.0 306.0 L446.0 318.0 L460.0 324.0 L478.0 322.0" stroke="#474747" stroke-width="1.35" fill="none" />
<path d="M483.0 313.0 L496.0 316.0" stroke="#444" stroke-width="1.2000000000000002" fill="none" stroke-dasharray="4 2.5" />
<circle cx="602.6" cy="279.6" r="11.5" stroke="#222" stroke-width="2.0999999999999996" fill="none"/>
<circle cx="602.6" cy="279.6" r="18.5" stroke="#474747" stroke-width="1.5" fill="none"/>
<circle cx="602.6" cy="279.6" r="25.0" stroke="#474747" stroke-width="1.5" fill="none"/>
<path d="M633.6 268.3 L634.4 270.9 L635.0 273.5 L635.4 276.2 L635.6 278.9 L635.5 281.6 L635.3 284.3 L634.8 287.0 L634.1 289.6 L633.1 292.1 L632.0 294.6 L630.7 296.9 L629.2 299.2 L627.5 301.3 L625.6 303.3 L623.6 305.1 L621.4 306.7 L619.1 308.1 L616.8 309.4 L614.3 310.5 L611.7 311.3 L609.1 312.0 L606.4 312.4 L603.7 312.6 L601.0 312.6 L598.3 312.3 L595.6 311.9 L593.0 311.2 L590.5 310.3 L588.0 309.2 L585.6 307.9 L583.3 306.4 L581.2 304.7 L579.2 302.9 L577.4 300.9 L575.7 298.8 L574.3 296.5 L573.0 294.1 L571.9 291.6 L571.0 289.1 L570.3 286.5 L569.9 283.8 L569.6 281.1 L569.6 278.4 L569.8 275.7 L570.3 273.0 L570.9 270.4 L571.8 267.8 L572.8 265.3 L574.1 263.0 L575.6 260.7" stroke="#474747" stroke-width="1.5" fill="none" />
<path d="M573.0 300.0 L572.8 297.6 L572.5 294.4 L572.2 290.5 L571.9 286.2 L571.5 281.8 L571.3 277.5 L571.1 273.5 L571.0 270.0 L571.0 266.9 L571.1 263.9 L571.3 261.1 L571.6 258.4 L571.9 255.9 L572.2 253.6 L572.6 251.7 L573.0 250.0 L573.4 248.7 L573.9 247.8 L574.4 247.2 L575.0 246.8 L575.6 246.5 L576.3 246.3 L577.1 246.2 L578.0 246.0 L579.0 245.8 L580.2 245.6 L581.5 245.6 L582.8 245.6 L584.2 245.6 L585.5 245.7 L586.8 245.8 L588.0 246.0 L589.1 246.2 L590.1 246.6 L591.1 246.9 L592.0 247.4 L592.9 247.8 L593.9 248.2 L594.9 248.7 L596.0 249.0 L597.1 249.3 L598.3 249.6 L599.5 250.0 L600.8 250.2 L602.0 250.5 L603.3 250.7 L604.6 250.9 L606.0 251.0 L607.4 251.0 L608.9 251.0 L610.4 250.8 L611.9 250.7 L613.4 250.5 L615.0 250.3 L616.5 250.1 L618.0 250.0 L619.5 249.9 L621.1 249.7 L622.7 249.5 L624.3 249.3 L625.9 249.2 L627.4 249.0 L628.7 249.0 L630.0 249.0 L631.2 249.1 L632.2 249.2 L633.3 249.3 L634.2 249.5 L635.0 249.8 L635.8 250.1 L636.4 250.5 L637.0 251.0 L637.4 251.6 L637.8 252.2 L638.0 253.0 L638.2 253.8 L638.3 254.6 L638.2 255.6 L638.2 256.8 L638.0 258.0 L637.7 259.4 L637.4 260.9 L636.9 262.5 L636.3 264.2 L635.7 266.0 L635.1 267.9 L634.5 269.9 L634.0 272.0 L633.5 274.3 L632.9 277.0 L632.3 279.9 L631.8 282.9 L631.2 285.7 L630.7 288.3 L630.3 290.4 L630.0 292.0" stroke="#474747" stroke-width="1.5" fill="none" />
<path d="M594.0 249.0 L600.0 246.5 L608.0 246.5 L612.0 250.0" stroke="#474747" stroke-width="1.35" fill="none" />
<circle cx="586.5" cy="261.5" r="4.8" stroke="#474747" stroke-width="1.35" fill="none"/>
<path d="M583.0 258.0 L590.0 265.0" stroke="#474747" stroke-width="1.0499999999999998" fill="none" />
<path d="M583.0 265.0 L590.0 258.0" stroke="#474747" stroke-width="1.0499999999999998" fill="none" />
<path d="M592.0 279.6 L614.0 279.6" stroke="#444" stroke-width="1.0499999999999998" fill="none" />
<path d="M602.6 269.0 L602.6 291.0" stroke="#444" stroke-width="1.0499999999999998" fill="none" />
<path d="M606.0 305.0 L620.0 300.0 L630.0 290.0" stroke="#474747" stroke-width="1.35" fill="none" />
<path d="M404.0 331.5 L403.0 329.8 L401.8 327.9 L400.7 325.9 L399.7 323.9 L398.7 321.9 L397.9 319.8 L397.0 317.7 L396.3 315.6 L395.6 313.5 L395.0 311.3 L394.4 309.2 L393.9 307.0 L393.5 304.8 L393.2 302.5 L393.0 300.5 L392.8 298.3 L392.7 296.1 L392.6 293.8 L392.6 291.6 L392.7 289.3 L392.9 287.1 L393.1 284.9 L393.4 282.6 L393.8 280.4 L394.3 278.2 L394.8 276.1 L395.4 273.9 L396.1 271.8 L396.8 269.6 L397.5 267.8 L398.4 265.7 L399.3 263.6 L400.3 261.6 L401.4 259.7 L402.5 257.7 L403.7 255.8 L405.0 254.0 L406.3 252.1 L407.6 250.4 L409.1 248.6 L410.5 246.9 L412.1 245.3 L413.7 243.7 L415.1 242.3 L416.8 240.8 L418.5 239.4 L420.3 238.0 L422.1 236.7 L424.0 235.5 L425.9 234.3 L427.8 233.1 L429.8 232.1 L431.8 231.1 L433.8 230.1 L435.9 229.2 L438.0 228.4 L440.1 227.7 L442.2 227.0 L444.2 226.5 L446.3 226.0 L448.5 225.5 L450.8 225.1 L453.0 224.8 L455.2 224.5 L457.3 224.3 L459.3 224.2 L461.3 224.0 L463.3 223.8 L465.3 223.7 L467.3 223.5 L469.3 223.3 L471.3 223.2 L473.3 223.0 L475.3 222.9 L477.3 222.7 L479.3 222.5 L481.3 222.4 L483.3 222.2 L485.3 222.0 L487.3 221.9 L489.3 221.7 L491.2 221.5 L493.2 221.4 L495.2 221.2 L497.2 221.0 L499.2 220.9 L501.2 220.7 L503.2 220.6 L505.2 220.4 L507.2 220.2 L509.2 220.1 L511.2 219.9 L513.2 219.7 L515.2 219.6 L517.2 219.4 L519.2 219.2 L521.2 219.1 L523.2 218.9 L525.2 218.7 L527.2 218.6 L529.2 218.4 L531.2 218.3 L533.2 218.1 L535.2 217.9 L537.1 217.8 L539.1 217.6 L541.1 217.4 L543.1 217.3 L545.1 217.1 L547.1 216.9 L549.1 216.8 L551.1 216.6 L553.1 216.4 L555.1 216.3 L557.1 216.1 L559.1 216.0 L561.1 215.8 L563.1 215.6 L565.1 215.5 L567.1 215.3 L569.1 215.1 L571.1 215.0 L573.1 214.8 L575.1 214.6 L577.1 214.5 L579.1 214.3 L581.1 214.1 L583.0 214.0 L585.0 213.8 L587.0 213.6 L589.0 213.5 L591.0 213.3 L593.0 213.2 L595.0 213.0 L597.0 212.8 L599.1 212.7 L601.3 212.6 L603.6 212.5 L605.8 212.5 L608.0 212.6 L610.2 212.8 L612.4 213.1 L614.7 213.4 L616.8 213.8 L619.0 214.2 L621.2 214.8 L623.3 215.4 L625.4 216.0 L627.5 216.8 L629.6 217.6 L631.7 218.4 L633.7 219.4 L635.7 220.4 L637.6 221.5 L639.5 222.6 L641.4 223.8 L643.2 225.0 L645.2 226.5 L647.0 227.9 L648.7 229.3 L650.3 230.8 L651.9 232.3 L653.5 233.9 L655.0 235.6 L656.4 237.3 L657.8 239.0 L659.1 240.8 L660.4 242.6 L661.6 244.5 L662.8 246.4 L663.9 248.3 L664.9 250.3 L665.9 252.3 L666.8 254.3 L667.6 256.4 L668.3 258.5 L669.0 260.6 L669.7 262.7 L670.2 264.9 L670.7 267.1 L671.1 269.3 L671.5 271.5 L671.7 273.7 L671.9 275.9 L672.0 278.1 L672.1 280.3 L672.1 282.5 L672.0 284.8 L671.8 287.0 L671.6 289.2 L671.3 291.4 L670.9 293.6 L670.4 295.8 L669.9 297.9 L669.4 300.0 L668.9 301.9 L668.4 303.9 L667.9 305.8 L667.3 307.7 L666.8 309.7 L666.3 311.6 L665.8 313.5 L665.3 315.5 L664.8 317.4 L664.3 319.4 L663.8 321.3 L663.3 323.2 L662.8 325.2 L662.3 327.1 L661.8 329.0 L661.3 331.0 L660.8 332.9 L660.2 334.9 L659.6 337.2 L659.0 339.2 L658.3 341.0 L657.7 342.9 L657.1 344.8 L656.5 346.7 L655.9 348.5 L655.3 350.2 L654.8 352.1 L654.3 354.0 L653.8 355.9 L653.4 357.8 L652.9 359.8 L652.3 361.8 L651.8 363.8 L651.2 365.8 L650.7 367.7 L650.1 369.6 L649.5 371.6 L648.9 373.5 L648.3 375.5 L647.7 377.5 L647.1 379.4 L646.4 381.4 L645.8 383.3 L645.1 385.2 L644.5 387.0 L644.0 388.8 L643.4 390.6 L642.9 392.5 L642.3 394.4 L641.8 396.3 L641.3 398.1 L640.8 400.1 L640.3 402.0 L639.8 403.9 L639.4 405.8 L638.9 407.7 L638.5 409.6 L638.0 411.6 L637.5 413.6 L637.0 415.5 L636.5 417.6 L636.0 419.6 L635.4 421.5 L634.9 423.4 L634.4 425.3 L633.9 427.2 L633.4 429.1 L632.9 431.0 L632.5 432.9 L632.1 434.8 L631.6 436.8 L631.1 438.8 L630.6 440.8 L630.1 442.9 L629.6 444.8 L629.0 446.8 L628.5 448.8 L627.9 450.7 L627.3 452.6 L626.8 454.5 L626.3 456.4 L625.7 458.3 L625.2 460.2 L624.7 462.1 L624.2 464.0 L623.7 465.9 L623.2 467.8 L622.8 469.8 L622.3 471.6 L621.9 473.5 L621.4 475.4 L621.0 477.4 L620.6 479.3 L620.2 481.3 L619.8 483.2 L619.4 485.2 L618.9 487.1 L618.5 489.1 L618.1 491.0 L617.8 492.9 L617.4 494.9 L617.0 496.8 L616.6 498.7 L616.3 500.6 L616.0 502.6 L615.6 504.6 L615.3 506.5 L614.9 508.5 L614.6 510.6 L614.2 512.6 L613.8 514.7 L613.3 516.7 L612.9 518.6 L612.5 520.6 L612.1 522.5 L611.7 524.5 L611.3 526.4 L610.9 528.3 L610.4 530.3 L610.0 532.3 L609.6 534.2 L609.2 536.2 L608.8 538.2 L608.4 540.1 L608.0 542.1 L607.6 544.1 L607.2 546.0 L606.8 548.0 L606.3 550.0 L605.9 551.9 L605.5 553.9 L605.1 555.8 L604.7 557.8 L604.3 559.7 L603.9 561.7 L603.5 563.6 L603.1 565.5 L602.8 567.5 L602.4 569.4 L602.0 571.3 L601.7 573.3 L601.3 575.3 L601.0 577.3 L600.6 579.3 L600.2 581.3 L599.8 583.3 L599.4 585.3 L599.0 587.2 L598.6 589.1 L598.2 591.1 L597.9 593.0 L597.6 594.9 L597.2 596.8 L596.9 598.7 L596.6 600.7 L596.3 602.7 L596.0 604.7 L595.7 606.7 L595.4 608.7 L595.0 610.6 L594.7 612.6 L594.4 614.6 L594.1 616.6 L593.8 618.6 L593.4 620.5 L593.1 622.5 L592.8 624.5 L592.4 626.5 L592.1 628.5 L591.8 630.5 L591.4 632.4 L591.1 634.4 L590.7 636.4 L590.4 638.4 L590.0 640.4 L589.7 642.3 L589.3 644.3 L589.0 646.3 L588.6 648.2 L588.3 650.2 L587.9 652.2 L587.6 654.2 L587.2 656.2 L586.9 658.1 L586.5 660.0 L586.2 662.0 L585.9 663.9 L585.6 665.8 L585.3 667.8 L585.0 669.7 L584.8 671.7 L584.5 673.6 L584.2 675.7 L583.9 677.7 L583.6 679.7 L583.3 681.7 L583.0 683.7 L582.7 685.6 L582.4 687.6 L582.1 689.6 L581.8 691.6 L581.5 693.6 L581.2 695.5 L580.9 697.5 L580.6 699.5 L580.3 701.5 L580.0 703.5 L579.7 705.4 L579.3 707.7 L579.0 709.6 L578.4 712.1 L577.6 714.4 L576.7 716.8 L575.7 719.1 L574.8 720.9 L573.6 723.0 L572.2 725.1 L570.8 727.2 L569.5 728.7 L567.8 730.6 L566.0 732.3 L564.2 734.0 L562.6 735.2 L560.5 736.7 L558.4 738.0 L556.2 739.3 L554.4 740.1 L552.1 741.1 L549.8 742.0 L547.4 742.7 L545.4 743.2 L543.0 743.6 L540.5 743.9 L538.0 744.1 L536.0 744.2 L533.5 744.1 L531.0 743.9 L528.5 743.5 L526.6 743.2 L524.1 742.6 L521.8 741.8 L519.4 740.9 L517.6 740.1 L515.3 739.0 L513.2 737.8 L511.1 736.4 L509.4 735.3 L507.5 733.7 L505.6 732.0 L503.9 730.2 L502.5 728.7 L501.0 726.8 L499.5 724.7 L498.2 722.6 L496.9 720.5 L496.1 718.7 L495.1 716.3 L494.2 714.0 L493.5 711.6 L493.0 709.7 L492.6 707.2 L492.3 705.0 L492.0 703.0 L491.7 701.0 L491.5 699.0 L491.2 697.0 L491.0 695.0 L490.7 693.0 L490.5 691.1 L490.3 687.4 L490.5 685.4 L490.7 683.4 L490.9 681.4 L491.2 679.5 L491.4 677.5 L491.6 675.5 L491.8 673.5 L492.0 671.5 L492.2 669.6 L492.4 667.6 L492.6 665.6 L492.8 663.7 L492.9 661.7 L493.1 659.7 L493.3 657.8 L493.4 655.8 L493.5 653.8 L493.7 651.9 L493.8 649.9 L493.9 647.9 L494.1 645.9 L494.2 643.8 L494.3 641.9 L494.5 639.9 L494.6 637.9 L494.7 635.9 L494.9 633.8 L495.0 631.8 L495.2 629.8 L495.3 627.7 L495.5 625.7 L495.7 623.7 L495.9 621.7 L496.1 619.7 L496.2 617.8 L496.4 615.8 L496.6 613.9 L496.7 611.9 L496.8 609.9 L496.9 607.9 L497.1 605.9 L497.2 603.9 L497.4 601.9 L497.5 599.8 L497.7 597.8 L497.9 595.8 L498.1 593.8 L498.2 591.8 L498.4 589.8 L498.6 587.8 L498.7 585.9 L498.9 583.9 L499.0 581.9 L499.2 579.9 L499.3 577.9 L499.5 576.0 L499.6 574.0 L499.7 572.0 L499.9 569.9 L500.0 568.0 L500.2 566.0 L500.3 564.0 L500.4 562.1 L500.5 560.2 L500.6 558.2 L500.7 556.2 L500.7 554.3 L500.8 552.3 L500.8 550.3 L500.9 548.3 L500.9 546.2 L501.0 544.2 L501.1 542.2 L501.1 540.2 L501.2 538.2 L501.2 536.3 L501.3 534.3 L501.3 532.4 L501.3 530.4 L501.3 528.4 L501.3 526.4 L501.3 524.5 L501.3 522.6 L501.2 520.8 L501.1 518.9 L501.0 516.9 L500.8 515.0 L500.6 513.1 L500.4 511.2 L500.2 509.4 L500.0 507.4 L499.7 505.5 L499.4 503.6 L499.1 501.8 L498.8 499.9 L498.4 498.0 L498.0 496.1 L497.6 494.1 L497.2 492.2 L496.7 490.3 L496.3 488.4 L495.9 486.5 L495.4 484.5 L494.9 482.6 L494.5 480.8 L494.0 478.9 L493.5 477.2 L493.0 475.4 L492.4 473.5 L491.7 471.7 L491.1 469.8 L490.5 467.9 L489.8 466.0 L489.1 463.9 L488.5 462.0 L487.9 460.0 L487.4 458.1 L486.8 456.3 L486.2 454.5 L485.6 452.8 L485.0 451.2 L484.3 449.6 L483.5 447.8 L482.7 446.1 L481.8 444.4 L480.9 442.6 L480.0 440.7 L479.1 438.8 L478.2 437.0 L477.4 435.2 L476.6 433.4 L475.8 431.6 L474.9 429.9 L474.1 428.4 L473.3 426.8 L472.3 425.1 L471.3 423.6 L470.3 422.1 L469.2 420.5 L468.1 418.9 L467.0 417.2 L465.8 415.6 L464.7 413.9 L463.6 412.3 L462.4 410.8 L461.3 409.2 L460.2 407.6 L459.0 406.1 L457.8 404.6 L456.6 403.0 L455.4 401.5 L454.2 400.0 L452.9 398.5 L451.6 396.9 L450.3 395.3 L449.1 393.7 L447.8 392.1 L446.5 390.5 L445.3 388.8 L444.1 387.2 L442.8 385.6 L441.6 384.0 L440.4 382.4 L439.2 380.8 L438.0 379.1 L436.8 377.5 L435.6 375.9 L434.5 374.3 L433.3 372.7 L432.1 371.2 L430.9 369.6 L429.7 368.0 L428.5 366.4 L427.3 364.8 L426.0 363.2 L424.8 361.6 L423.6 359.9 L422.4 358.3 L421.2 356.7 L420.0 355.0 L418.8 353.4 L417.7 351.8 L416.5 350.1 L415.3 348.5 L414.0 346.6 L412.9 345.0 L411.8 343.3 L410.7 341.6 L409.6 339.9 L408.5 338.3 L407.4 336.6 L406.3 334.9 L405.2 333.3 L404.0 331.5 Z" stroke="#474747" stroke-width="1.2000000000000002" fill="none" />
<path d="M415.8 324.0 L414.8 322.3 L413.9 320.8 L413.0 319.2 L412.2 317.7 L411.5 316.1 L410.8 314.4 L410.1 312.8 L409.5 311.1 L409.0 309.5 L408.5 307.8 L408.1 306.1 L407.7 304.4 L407.4 302.6 L407.1 300.9 L406.9 298.9 L406.7 297.1 L406.6 295.4 L406.6 293.6 L406.6 291.9 L406.7 290.1 L406.8 288.3 L407.0 286.6 L407.3 284.9 L407.6 283.1 L407.9 281.4 L408.3 279.7 L408.8 278.0 L409.3 276.3 L409.9 274.6 L410.6 272.8 L411.3 271.1 L412.0 269.5 L412.8 268.0 L413.7 266.4 L414.5 264.9 L415.5 263.4 L416.4 261.9 L417.5 260.5 L418.5 259.1 L419.7 257.8 L420.8 256.4 L422.0 255.1 L423.3 253.9 L424.7 252.5 L426.0 251.4 L427.4 250.2 L428.8 249.2 L430.2 248.1 L431.7 247.2 L433.2 246.2 L434.7 245.3 L436.2 244.5 L437.8 243.7 L439.4 243.0 L441.0 242.3 L442.7 241.6 L444.3 241.0 L446.0 240.5 L447.9 240.0 L449.6 239.6 L451.4 239.2 L453.1 238.9 L454.8 238.6 L456.6 238.5 L458.5 238.3 L460.5 238.1 L462.5 238.0 L464.5 237.8 L466.5 237.6 L468.4 237.5 L470.4 237.3 L472.4 237.1 L474.4 237.0 L476.4 236.8 L478.4 236.6 L480.4 236.5 L482.4 236.3 L484.4 236.2 L486.4 236.0 L488.4 235.8 L490.4 235.7 L492.4 235.5 L494.4 235.3 L496.4 235.2 L498.4 235.0 L500.4 234.8 L502.4 234.7 L504.4 234.5 L506.4 234.3 L508.4 234.2 L510.4 234.0 L512.4 233.8 L514.3 233.7 L516.3 233.5 L518.3 233.4 L520.3 233.2 L522.3 233.0 L524.3 232.9 L526.3 232.7 L528.3 232.5 L530.3 232.4 L532.3 232.2 L534.3 232.0 L536.3 231.9 L538.3 231.7 L540.3 231.5 L542.3 231.4 L544.3 231.2 L546.3 231.1 L548.3 230.9 L550.3 230.7 L552.3 230.6 L554.3 230.4 L556.3 230.2 L558.3 230.1 L560.3 229.9 L562.2 229.7 L564.2 229.6 L566.2 229.4 L568.2 229.2 L570.2 229.1 L572.2 228.9 L574.2 228.8 L576.2 228.6 L578.2 228.4 L580.2 228.3 L582.2 228.1 L584.2 227.9 L586.2 227.8 L588.2 227.6 L590.2 227.4 L592.2 227.3 L594.2 227.1 L596.2 226.9 L598.2 226.8 L600.1 226.6 L601.8 226.5 L603.6 226.5 L605.4 226.5 L607.2 226.6 L608.9 226.8 L610.7 226.9 L612.5 227.2 L614.2 227.5 L616.0 227.9 L617.7 228.3 L619.4 228.8 L621.1 229.3 L622.8 229.9 L624.4 230.6 L626.1 231.3 L627.7 232.0 L629.3 232.8 L630.8 233.7 L632.4 234.6 L633.9 235.6 L635.3 236.6 L636.6 237.5 L638.0 238.6 L639.3 239.7 L640.7 240.9 L641.9 242.2 L643.2 243.4 L644.4 244.7 L645.6 246.1 L646.7 247.5 L647.7 248.9 L648.8 250.4 L649.7 251.9 L650.7 253.4 L651.5 254.9 L652.4 256.5 L653.1 258.1 L653.8 259.7 L654.5 261.4 L655.1 263.1 L655.7 264.8 L656.2 266.5 L656.6 268.2 L657.0 269.9 L657.3 271.7 L657.6 273.4 L657.8 275.2 L658.0 277.0 L658.1 278.7 L658.1 280.5 L658.1 282.3 L658.0 284.1 L657.9 285.9 L657.7 287.6 L657.4 289.4 L657.1 291.1 L656.7 292.9 L656.3 294.6 L655.8 296.4 L655.3 298.4 L654.8 300.3 L654.3 302.2 L653.8 304.2 L653.3 306.1 L652.8 308.1 L652.3 310.0 L651.8 311.9 L651.3 313.9 L650.8 315.8 L650.3 317.7 L649.7 319.7 L649.2 321.6 L648.7 323.6 L648.2 325.5 L647.7 327.4 L647.2 329.4 L646.7 331.3 L646.3 332.8 L645.7 334.7 L645.0 336.6 L644.4 338.5 L643.8 340.4 L643.1 342.4 L642.5 344.4 L641.9 346.4 L641.3 348.5 L640.8 350.4 L640.3 352.4 L639.8 354.4 L639.3 356.3 L638.8 358.1 L638.3 360.0 L637.8 361.9 L637.2 363.8 L636.7 365.7 L636.1 367.6 L635.5 369.5 L634.9 371.3 L634.4 373.2 L633.8 375.0 L633.2 376.9 L632.5 378.8 L631.9 380.7 L631.2 382.6 L630.6 384.6 L630.0 386.7 L629.4 388.6 L628.8 390.6 L628.3 392.6 L627.8 394.6 L627.2 396.5 L626.7 398.5 L626.2 400.5 L625.8 402.5 L625.3 404.5 L624.8 406.4 L624.4 408.3 L623.9 410.2 L623.4 412.2 L623.0 414.0 L622.5 415.9 L621.9 417.8 L621.4 419.8 L620.9 421.7 L620.3 423.7 L619.8 425.7 L619.3 427.7 L618.9 429.7 L618.4 431.7 L618.0 433.6 L617.5 435.5 L617.1 437.4 L616.6 439.2 L616.1 441.1 L615.6 443.0 L615.0 444.9 L614.5 446.8 L613.9 448.7 L613.3 450.7 L612.8 452.6 L612.2 454.6 L611.7 456.6 L611.2 458.5 L610.7 460.5 L610.1 462.5 L609.6 464.5 L609.2 466.4 L608.7 468.4 L608.2 470.4 L607.8 472.4 L607.3 474.4 L606.9 476.4 L606.5 478.3 L606.1 480.3 L605.7 482.3 L605.2 484.2 L604.8 486.2 L604.4 488.2 L604.0 490.2 L603.6 492.2 L603.2 494.2 L602.9 496.2 L602.5 498.2 L602.2 500.2 L601.8 502.2 L601.5 504.2 L601.2 506.1 L600.8 508.0 L600.4 509.9 L600.1 511.8 L599.7 513.7 L599.2 515.7 L598.8 517.6 L598.4 519.6 L598.0 521.6 L597.5 523.6 L597.1 525.5 L596.7 527.5 L596.3 529.5 L595.9 531.4 L595.5 533.4 L595.1 535.3 L594.7 537.3 L594.3 539.2 L593.9 541.2 L593.5 543.1 L593.1 545.1 L592.7 547.1 L592.2 549.0 L591.8 551.0 L591.4 553.0 L591.0 554.9 L590.6 556.9 L590.2 558.9 L589.8 560.8 L589.4 562.8 L589.0 564.9 L588.6 566.9 L588.3 568.9 L587.9 570.8 L587.6 572.8 L587.2 574.8 L586.8 576.7 L586.5 578.6 L586.1 580.5 L585.7 582.5 L585.3 584.4 L584.9 586.4 L584.5 588.4 L584.1 590.5 L583.8 592.5 L583.4 594.5 L583.1 596.6 L582.8 598.6 L582.5 600.5 L582.2 602.5 L581.9 604.5 L581.5 606.4 L581.2 608.4 L580.9 610.4 L580.6 612.4 L580.3 614.3 L579.9 616.3 L579.6 618.3 L579.3 620.2 L579.0 622.2 L578.6 624.2 L578.3 626.1 L578.0 628.1 L577.6 630.1 L577.3 632.0 L576.9 634.0 L576.6 635.9 L576.3 637.9 L575.9 639.9 L575.6 641.9 L575.2 643.8 L574.9 645.8 L574.5 647.8 L574.2 649.7 L573.8 651.7 L573.4 653.7 L573.1 655.7 L572.7 657.7 L572.4 659.7 L572.1 661.7 L571.7 663.7 L571.4 665.8 L571.2 667.8 L570.9 669.8 L570.6 671.8 L570.3 673.7 L570.1 675.6 L569.8 677.6 L569.5 679.6 L569.2 681.6 L568.9 683.5 L568.6 685.5 L568.3 687.5 L568.0 689.5 L567.7 691.5 L567.4 693.4 L567.1 695.4 L566.8 697.4 L566.5 699.4 L566.2 701.4 L565.9 703.3 L565.6 705.1 L565.2 707.0 L564.8 708.5 L564.4 709.9 L563.8 711.3 L563.3 712.7 L562.4 714.5 L561.6 715.8 L560.8 717.1 L559.9 718.3 L558.7 719.8 L557.6 720.9 L556.6 722.0 L555.5 723.0 L553.9 724.3 L552.7 725.1 L551.4 725.9 L550.1 726.7 L548.3 727.5 L546.9 728.1 L545.5 728.6 L544.1 729.1 L542.1 729.6 L540.7 729.8 L539.2 730.0 L537.7 730.1 L535.7 730.2 L534.2 730.1 L532.7 730.0 L531.2 729.8 L529.2 729.4 L527.8 729.0 L526.3 728.6 L524.9 728.1 L523.1 727.3 L521.8 726.6 L520.5 725.8 L519.2 725.0 L517.6 723.9 L516.4 722.9 L515.3 721.9 L514.2 720.8 L512.9 719.3 L512.0 718.2 L511.1 716.9 L510.3 715.7 L509.6 714.4 L508.7 712.6 L508.1 711.2 L507.6 709.8 L507.1 708.3 L506.7 706.4 L506.4 704.9 L506.1 703.2 L505.9 701.2 L505.6 699.2 L505.4 697.2 L505.1 695.2 L504.9 693.3 L504.6 691.3 L504.4 689.3 L504.2 689.0 L504.4 687.0 L504.6 685.0 L504.9 683.0 L505.1 681.0 L505.3 679.0 L505.5 677.0 L505.7 675.0 L505.9 673.0 L506.1 671.0 L506.3 669.0 L506.5 666.9 L506.7 664.9 L506.9 662.9 L507.1 660.9 L507.2 658.8 L507.4 656.8 L507.5 654.8 L507.6 652.8 L507.8 650.8 L507.9 648.8 L508.0 646.8 L508.2 644.8 L508.3 642.8 L508.4 640.8 L508.6 638.8 L508.7 636.8 L508.8 634.8 L509.0 632.9 L509.1 630.9 L509.3 629.0 L509.5 627.0 L509.6 625.0 L509.8 623.0 L510.0 621.0 L510.2 618.9 L510.4 616.9 L510.5 614.9 L510.7 612.8 L510.8 610.8 L510.9 608.8 L511.0 606.9 L511.2 604.9 L511.3 602.9 L511.5 601.0 L511.6 599.0 L511.8 597.0 L512.0 595.0 L512.2 593.0 L512.4 591.0 L512.5 589.0 L512.7 587.0 L512.8 585.0 L513.0 582.9 L513.1 580.9 L513.3 578.9 L513.4 576.9 L513.6 574.9 L513.7 572.9 L513.8 571.0 L514.0 568.9 L514.1 566.9 L514.3 564.9 L514.4 562.8 L514.5 560.8 L514.6 558.8 L514.7 556.7 L514.7 554.6 L514.8 552.6 L514.8 550.6 L514.9 548.6 L514.9 546.7 L515.0 544.7 L515.0 542.7 L515.1 540.7 L515.2 538.7 L515.2 536.6 L515.3 534.5 L515.3 532.5 L515.3 530.5 L515.3 528.5 L515.3 526.4 L515.3 524.3 L515.3 522.2 L515.2 520.1 L515.1 517.9 L514.9 515.9 L514.8 513.8 L514.6 511.7 L514.3 509.6 L514.1 507.6 L513.8 505.6 L513.6 503.5 L513.2 501.4 L512.9 499.3 L512.5 497.2 L512.1 495.2 L511.7 493.2 L511.3 491.2 L510.8 489.2 L510.4 487.2 L510.0 485.3 L509.5 483.2 L509.0 481.3 L508.5 479.3 L508.0 477.3 L507.5 475.2 L506.9 473.2 L506.3 471.1 L505.7 469.2 L505.0 467.2 L504.4 465.3 L503.7 463.4 L503.1 461.5 L502.5 459.7 L501.9 457.9 L501.3 456.0 L500.8 454.1 L500.2 452.1 L499.5 450.1 L498.7 448.0 L497.9 445.8 L497.1 443.8 L496.2 442.0 L495.3 440.0 L494.4 438.2 L493.5 436.4 L492.6 434.6 L491.8 432.9 L491.0 431.1 L490.1 429.3 L489.3 427.5 L488.4 425.6 L487.5 423.7 L486.4 421.7 L485.3 419.7 L484.3 418.0 L483.2 416.1 L482.0 414.3 L480.8 412.6 L479.6 410.9 L478.5 409.2 L477.3 407.6 L476.2 405.9 L475.0 404.3 L473.8 402.6 L472.6 400.9 L471.4 399.3 L470.1 397.6 L468.9 395.9 L467.6 394.3 L466.3 392.7 L465.0 391.1 L463.7 389.6 L462.5 388.0 L461.2 386.6 L460.0 385.0 L458.8 383.5 L457.6 381.9 L456.4 380.4 L455.2 378.8 L454.0 377.2 L452.8 375.6 L451.7 374.0 L450.5 372.4 L449.3 370.8 L448.1 369.2 L446.9 367.6 L445.7 366.0 L444.5 364.3 L443.3 362.7 L442.0 361.1 L440.8 359.5 L439.6 357.9 L438.4 356.3 L437.2 354.7 L436.0 353.2 L434.9 351.6 L433.7 350.0 L432.5 348.4 L431.3 346.8 L430.2 345.2 L429.0 343.6 L427.8 342.0 L426.7 340.3 L425.7 338.9 L424.6 337.2 L423.5 335.6 L422.4 333.9 L421.3 332.2 L420.2 330.5 L419.1 328.9 L418.0 327.2 L416.9 325.5 L415.8 324.0 Z" stroke="#474747" stroke-width="1.2000000000000002" fill="none" />
<circle cx="399.6" cy="294.8" r="4.1" stroke="#474747" stroke-width="1.5750000000000002" fill="#fff"/>
<path d="M399.6 295.6 L399.6 292.8" stroke="#555" stroke-width="0.8999999999999999" fill="none" />
<circle cx="400.9" cy="281.0" r="4.1" stroke="#474747" stroke-width="1.5750000000000002" fill="#fff"/>
<path d="M400.7 281.8 L401.2 279.0" stroke="#555" stroke-width="0.8999999999999999" fill="none" />
<circle cx="405.1" cy="267.8" r="4.1" stroke="#474747" stroke-width="1.5750000000000002" fill="#fff"/>
<path d="M404.8 268.5 L406.0 266.0" stroke="#555" stroke-width="0.8999999999999999" fill="none" />
<circle cx="412.2" cy="255.9" r="4.1" stroke="#474747" stroke-width="1.5750000000000002" fill="#fff"/>
<path d="M411.7 256.5 L413.4 254.3" stroke="#555" stroke-width="0.8999999999999999" fill="none" />
<circle cx="421.7" cy="245.8" r="4.1" stroke="#474747" stroke-width="1.5750000000000002" fill="#fff"/>
<path d="M421.1 246.3 L423.3 244.6" stroke="#555" stroke-width="0.8999999999999999" fill="none" />
<circle cx="433.3" cy="238.1" r="4.1" stroke="#474747" stroke-width="1.5750000000000002" fill="#fff"/>
<path d="M432.6 238.5 L435.1 237.2" stroke="#555" stroke-width="0.8999999999999999" fill="none" />
<circle cx="446.2" cy="233.2" r="4.1" stroke="#474747" stroke-width="1.5750000000000002" fill="#fff"/>
<path d="M445.4 233.4 L448.2 232.7" stroke="#555" stroke-width="0.8999999999999999" fill="none" />
<circle cx="459.9" cy="231.1" r="4.1" stroke="#474747" stroke-width="1.5750000000000002" fill="#fff"/>
<path d="M459.1 231.2 L461.9 231.0" stroke="#555" stroke-width="0.8999999999999999" fill="none" />
<path d="M464.5 230.8 L469.2 230.4" stroke="#666" stroke-width="0.8999999999999999" fill="none" />
<circle cx="473.8" cy="230.0" r="4.0" stroke="#474747" stroke-width="1.2000000000000002" fill="#fff"/>
<path d="M473.0 230.1 L475.8 229.8" stroke="#555" stroke-width="0.8999999999999999" fill="none" />
<path d="M478.4 229.6 L483.1 229.2" stroke="#666" stroke-width="0.8999999999999999" fill="none" />
<circle cx="487.6" cy="228.9" r="4.0" stroke="#474747" stroke-width="1.2000000000000002" fill="#fff"/>
<path d="M486.8 228.9 L489.6 228.7" stroke="#555" stroke-width="0.8999999999999999" fill="none" />
<path d="M492.2 228.5 L496.9 228.1" stroke="#666" stroke-width="0.8999999999999999" fill="none" />
<circle cx="501.5" cy="227.7" r="4.0" stroke="#474747" stroke-width="1.2000000000000002" fill="#fff"/>
<path d="M500.7 227.8 L503.5 227.6" stroke="#555" stroke-width="0.8999999999999999" fill="none" />
<path d="M506.0 227.3 L510.7 227.0" stroke="#666" stroke-width="0.8999999999999999" fill="none" />
<circle cx="515.3" cy="226.6" r="4.0" stroke="#474747" stroke-width="1.2000000000000002" fill="#fff"/>
<path d="M514.5 226.6 L517.3 226.4" stroke="#555" stroke-width="0.8999999999999999" fill="none" />
<path d="M519.9 226.2 L524.6 225.8" stroke="#666" stroke-width="0.8999999999999999" fill="none" />
<circle cx="529.2" cy="225.4" r="4.0" stroke="#474747" stroke-width="1.2000000000000002" fill="#fff"/>
<path d="M528.4 225.5 L531.2 225.3" stroke="#555" stroke-width="0.8999999999999999" fill="none" />
<path d="M533.7 225.1 L538.4 224.7" stroke="#666" stroke-width="0.8999999999999999" fill="none" />
<circle cx="543.0" cy="224.3" r="4.0" stroke="#474747" stroke-width="1.2000000000000002" fill="#fff"/>
<path d="M542.2 224.4 L545.0 224.1" stroke="#555" stroke-width="0.8999999999999999" fill="none" />
<path d="M547.6 223.9 L552.3 223.5" stroke="#666" stroke-width="0.8999999999999999" fill="none" />
<circle cx="556.8" cy="223.2" r="4.0" stroke="#474747" stroke-width="1.2000000000000002" fill="#fff"/>
<path d="M556.1 223.2 L558.8 223.0" stroke="#555" stroke-width="0.8999999999999999" fill="none" />
<path d="M561.4 222.8 L566.1 222.4" stroke="#666" stroke-width="0.8999999999999999" fill="none" />
<circle cx="570.7" cy="222.0" r="4.0" stroke="#474747" stroke-width="1.2000000000000002" fill="#fff"/>
<path d="M569.9 222.1 L572.7 221.9" stroke="#555" stroke-width="0.8999999999999999" fill="none" />
<path d="M575.3 221.6 L580.0 221.3" stroke="#666" stroke-width="0.8999999999999999" fill="none" />
<circle cx="584.5" cy="220.9" r="4.0" stroke="#474747" stroke-width="1.2000000000000002" fill="#fff"/>
<path d="M583.7 220.9 L586.5 220.7" stroke="#555" stroke-width="0.8999999999999999" fill="none" />
<path d="M589.1 220.5 L593.8 220.1" stroke="#666" stroke-width="0.8999999999999999" fill="none" />
<circle cx="598.4" cy="219.7" r="4.1" stroke="#474747" stroke-width="1.5750000000000002" fill="#fff"/>
<path d="M597.6 219.8 L600.4 219.6" stroke="#555" stroke-width="0.8999999999999999" fill="none" />
<circle cx="612.2" cy="220.1" r="4.1" stroke="#474747" stroke-width="1.5750000000000002" fill="#fff"/>
<path d="M611.4 220.0 L614.2 220.3" stroke="#555" stroke-width="0.8999999999999999" fill="none" />
<circle cx="625.7" cy="223.5" r="4.1" stroke="#474747" stroke-width="1.5750000000000002" fill="#fff"/>
<path d="M624.9 223.2 L627.5 224.3" stroke="#555" stroke-width="0.8999999999999999" fill="none" />
<circle cx="638.0" cy="229.9" r="4.1" stroke="#474747" stroke-width="1.5750000000000002" fill="#fff"/>
<path d="M637.3 229.5 L639.6 231.0" stroke="#555" stroke-width="0.8999999999999999" fill="none" />
<circle cx="648.5" cy="238.9" r="4.1" stroke="#474747" stroke-width="1.5750000000000002" fill="#fff"/>
<path d="M648.0 238.3 L649.9 240.4" stroke="#555" stroke-width="0.8999999999999999" fill="none" />
<circle cx="656.8" cy="250.0" r="4.1" stroke="#474747" stroke-width="1.5750000000000002" fill="#fff"/>
<path d="M656.4 249.3 L657.8 251.7" stroke="#555" stroke-width="0.8999999999999999" fill="none" />
<circle cx="662.4" cy="262.7" r="4.1" stroke="#474747" stroke-width="1.5750000000000002" fill="#fff"/>
<path d="M662.1 261.9 L663.0 264.6" stroke="#555" stroke-width="0.8999999999999999" fill="none" />
<circle cx="664.9" cy="276.3" r="4.1" stroke="#474747" stroke-width="1.5750000000000002" fill="#fff"/>
<path d="M664.9 275.5 L665.1 278.3" stroke="#555" stroke-width="0.8999999999999999" fill="none" />
<circle cx="664.4" cy="290.2" r="4.1" stroke="#474747" stroke-width="1.5750000000000002" fill="#fff"/>
<path d="M664.5 289.4 L664.1 292.2" stroke="#555" stroke-width="0.8999999999999999" fill="none" />
<circle cx="661.2" cy="303.7" r="4.1" stroke="#474747" stroke-width="1.5750000000000002" fill="#fff"/>
<path d="M661.4 302.9 L660.7 305.6" stroke="#555" stroke-width="0.8999999999999999" fill="none" />
<path d="M660.0 308.1 L658.8 312.7" stroke="#666" stroke-width="0.8999999999999999" fill="none" />
<circle cx="657.7" cy="317.1" r="4.0" stroke="#474747" stroke-width="1.2000000000000002" fill="#fff"/>
<path d="M657.9 316.3 L657.1 319.1" stroke="#555" stroke-width="0.8999999999999999" fill="none" />
<path d="M656.5 321.6 L655.3 326.1" stroke="#666" stroke-width="0.8999999999999999" fill="none" />
<circle cx="654.1" cy="330.6" r="4.0" stroke="#474747" stroke-width="1.2000000000000002" fill="#fff"/>
<path d="M654.3 329.8 L653.6 332.5" stroke="#555" stroke-width="0.8999999999999999" fill="none" />
<path d="M652.8 334.9 L651.4 339.4" stroke="#666" stroke-width="0.8999999999999999" fill="none" />
<circle cx="650.0" cy="343.8" r="4.0" stroke="#474747" stroke-width="1.2000000000000002" fill="#fff"/>
<path d="M650.3 343.1 L649.4 345.7" stroke="#555" stroke-width="0.8999999999999999" fill="none" />
<path d="M648.8 348.2 L647.5 352.8" stroke="#666" stroke-width="0.8999999999999999" fill="none" />
<circle cx="646.3" cy="357.2" r="4.0" stroke="#474747" stroke-width="1.2000000000000002" fill="#fff"/>
<path d="M646.5 356.4 L645.8 359.1" stroke="#555" stroke-width="0.8999999999999999" fill="none" />
<path d="M645.0 361.6 L643.8 366.2" stroke="#666" stroke-width="0.8999999999999999" fill="none" />
<circle cx="642.5" cy="370.6" r="4.0" stroke="#474747" stroke-width="1.2000000000000002" fill="#fff"/>
<path d="M642.7 369.8 L641.9 372.5" stroke="#555" stroke-width="0.8999999999999999" fill="none" />
<path d="M641.1 374.9 L639.6 379.4" stroke="#666" stroke-width="0.8999999999999999" fill="none" />
<circle cx="638.2" cy="383.8" r="4.0" stroke="#474747" stroke-width="1.2000000000000002" fill="#fff"/>
<path d="M638.5 383.0 L637.6 385.7" stroke="#555" stroke-width="0.8999999999999999" fill="none" />
<path d="M636.9 388.2 L635.6 392.7" stroke="#666" stroke-width="0.8999999999999999" fill="none" />
<circle cx="634.3" cy="397.1" r="4.0" stroke="#474747" stroke-width="1.2000000000000002" fill="#fff"/>
<path d="M634.5 396.3 L633.8 399.0" stroke="#555" stroke-width="0.8999999999999999" fill="none" />
<path d="M633.2 401.6 L632.1 406.1" stroke="#666" stroke-width="0.8999999999999999" fill="none" />
<circle cx="631.0" cy="410.6" r="4.0" stroke="#474747" stroke-width="1.2000000000000002" fill="#fff"/>
<path d="M631.2 409.8 L630.6 412.5" stroke="#555" stroke-width="0.8999999999999999" fill="none" />
<path d="M629.9 415.0 L628.7 419.6" stroke="#666" stroke-width="0.8999999999999999" fill="none" />
<circle cx="627.5" cy="424.0" r="4.0" stroke="#474747" stroke-width="1.2000000000000002" fill="#fff"/>
<path d="M627.7 423.3 L627.0 426.0" stroke="#555" stroke-width="0.8999999999999999" fill="none" />
<path d="M626.4 428.5 L625.3 433.1" stroke="#666" stroke-width="0.8999999999999999" fill="none" />
<circle cx="624.2" cy="437.5" r="4.0" stroke="#474747" stroke-width="1.2000000000000002" fill="#fff"/>
<path d="M624.4 436.8 L623.8 439.5" stroke="#555" stroke-width="0.8999999999999999" fill="none" />
<path d="M623.0 442.0 L621.8 446.5" stroke="#666" stroke-width="0.8999999999999999" fill="none" />
<circle cx="620.5" cy="450.9" r="4.0" stroke="#474747" stroke-width="1.2000000000000002" fill="#fff"/>
<path d="M620.8 450.2 L620.0 452.8" stroke="#555" stroke-width="0.8999999999999999" fill="none" />
<path d="M619.3 455.3 L618.1 459.9" stroke="#666" stroke-width="0.8999999999999999" fill="none" />
<circle cx="616.9" cy="464.3" r="4.0" stroke="#474747" stroke-width="1.2000000000000002" fill="#fff"/>
<path d="M617.1 463.5 L616.4 466.3" stroke="#555" stroke-width="0.8999999999999999" fill="none" />
<path d="M615.9 468.8 L614.8 473.4" stroke="#666" stroke-width="0.8999999999999999" fill="none" />
<circle cx="613.8" cy="477.9" r="4.0" stroke="#474747" stroke-width="1.2000000000000002" fill="#fff"/>
<path d="M613.9 477.1 L613.3 479.8" stroke="#555" stroke-width="0.8999999999999999" fill="none" />
<path d="M612.8 482.3 L611.9 487.0" stroke="#666" stroke-width="0.8999999999999999" fill="none" />
<circle cx="610.9" cy="491.5" r="4.0" stroke="#474747" stroke-width="1.2000000000000002" fill="#fff"/>
<path d="M611.1 490.7 L610.5 493.4" stroke="#555" stroke-width="0.8999999999999999" fill="none" />
<path d="M610.1 496.0 L609.3 500.6" stroke="#666" stroke-width="0.8999999999999999" fill="none" />
<circle cx="608.4" cy="505.1" r="4.0" stroke="#474747" stroke-width="1.2000000000000002" fill="#fff"/>
<path d="M608.6 504.3 L608.1 507.1" stroke="#555" stroke-width="0.8999999999999999" fill="none" />
<path d="M607.5 509.6 L606.6 514.2" stroke="#666" stroke-width="0.8999999999999999" fill="none" />
<circle cx="605.7" cy="518.7" r="4.0" stroke="#474747" stroke-width="1.2000000000000002" fill="#fff"/>
<path d="M605.9 518.0 L605.3 520.7" stroke="#555" stroke-width="0.8999999999999999" fill="none" />
<path d="M604.8 523.2 L603.8 527.9" stroke="#666" stroke-width="0.8999999999999999" fill="none" />
<circle cx="602.9" cy="532.3" r="4.0" stroke="#474747" stroke-width="1.2000000000000002" fill="#fff"/>
<path d="M603.0 531.6 L602.5 534.3" stroke="#555" stroke-width="0.8999999999999999" fill="none" />
<path d="M602.0 536.8 L601.0 541.4" stroke="#666" stroke-width="0.8999999999999999" fill="none" />
<circle cx="600.0" cy="545.9" r="4.0" stroke="#474747" stroke-width="1.2000000000000002" fill="#fff"/>
<path d="M600.2 545.2 L599.6 547.9" stroke="#555" stroke-width="0.8999999999999999" fill="none" />
<path d="M599.1 550.4 L598.1 555.0" stroke="#666" stroke-width="0.8999999999999999" fill="none" />
<circle cx="597.2" cy="559.5" r="4.0" stroke="#474747" stroke-width="1.2000000000000002" fill="#fff"/>
<path d="M597.4 558.7 L596.8 561.5" stroke="#555" stroke-width="0.8999999999999999" fill="none" />
<path d="M596.3 564.0 L595.5 568.7" stroke="#666" stroke-width="0.8999999999999999" fill="none" />
<circle cx="594.6" cy="573.2" r="4.0" stroke="#474747" stroke-width="1.2000000000000002" fill="#fff"/>
<path d="M594.7 572.4 L594.2 575.1" stroke="#555" stroke-width="0.8999999999999999" fill="none" />
<path d="M593.7 577.7 L592.8 582.3" stroke="#666" stroke-width="0.8999999999999999" fill="none" />
<circle cx="592.0" cy="586.8" r="4.0" stroke="#474747" stroke-width="1.2000000000000002" fill="#fff"/>
<path d="M592.1 586.0 L591.6 588.8" stroke="#555" stroke-width="0.8999999999999999" fill="none" />
<path d="M591.2 591.3 L590.4 596.0" stroke="#666" stroke-width="0.8999999999999999" fill="none" />
<circle cx="589.6" cy="600.5" r="4.0" stroke="#474747" stroke-width="1.2000000000000002" fill="#fff"/>
<path d="M589.7 599.7 L589.3 602.5" stroke="#555" stroke-width="0.8999999999999999" fill="none" />
<path d="M588.8 605.0 L588.1 609.7" stroke="#666" stroke-width="0.8999999999999999" fill="none" />
<circle cx="587.4" cy="614.2" r="4.0" stroke="#474747" stroke-width="1.2000000000000002" fill="#fff"/>
<path d="M587.5 613.4 L587.1 616.2" stroke="#555" stroke-width="0.8999999999999999" fill="none" />
<path d="M586.6 618.7 L585.9 623.4" stroke="#666" stroke-width="0.8999999999999999" fill="none" />
<circle cx="585.1" cy="627.9" r="4.0" stroke="#474747" stroke-width="1.2000000000000002" fill="#fff"/>
<path d="M585.2 627.1 L584.8 629.9" stroke="#555" stroke-width="0.8999999999999999" fill="none" />
<path d="M584.3 632.4 L583.5 637.1" stroke="#666" stroke-width="0.8999999999999999" fill="none" />
<circle cx="582.7" cy="641.6" r="4.0" stroke="#474747" stroke-width="1.2000000000000002" fill="#fff"/>
<path d="M582.9 640.8 L582.4 643.6" stroke="#555" stroke-width="0.8999999999999999" fill="none" />
<path d="M581.9 646.1 L581.1 650.8" stroke="#666" stroke-width="0.8999999999999999" fill="none" />
<circle cx="580.3" cy="655.3" r="4.0" stroke="#474747" stroke-width="1.2000000000000002" fill="#fff"/>
<path d="M580.4 654.5 L579.9 657.2" stroke="#555" stroke-width="0.8999999999999999" fill="none" />
<path d="M579.5 659.8 L578.8 664.5" stroke="#666" stroke-width="0.8999999999999999" fill="none" />
<circle cx="578.1" cy="669.0" r="4.0" stroke="#474747" stroke-width="1.2000000000000002" fill="#fff"/>
<path d="M578.2 668.2 L577.8 671.0" stroke="#555" stroke-width="0.8999999999999999" fill="none" />
<path d="M577.4 673.5 L576.7 678.2" stroke="#666" stroke-width="0.8999999999999999" fill="none" />
<circle cx="576.1" cy="682.7" r="4.0" stroke="#474747" stroke-width="1.2000000000000002" fill="#fff"/>
<path d="M576.2 681.9 L575.8 684.7" stroke="#555" stroke-width="0.8999999999999999" fill="none" />
<path d="M575.4 687.3 L574.7 691.9" stroke="#666" stroke-width="0.8999999999999999" fill="none" />
<circle cx="574.0" cy="696.5" r="4.1" stroke="#474747" stroke-width="1.5750000000000002" fill="#fff"/>
<path d="M574.1 695.7 L573.7 698.4" stroke="#555" stroke-width="0.8999999999999999" fill="none" />
<circle cx="571.6" cy="710.1" r="4.1" stroke="#474747" stroke-width="1.5750000000000002" fill="#fff"/>
<path d="M571.8 709.4 L571.1 712.1" stroke="#555" stroke-width="0.8999999999999999" fill="none" />
<circle cx="565.5" cy="722.5" r="4.1" stroke="#474747" stroke-width="1.5750000000000002" fill="#fff"/>
<path d="M566.0 721.9 L564.3 724.2" stroke="#555" stroke-width="0.8999999999999999" fill="none" />
<circle cx="555.3" cy="731.8" r="4.1" stroke="#474747" stroke-width="1.5750000000000002" fill="#fff"/>
<path d="M555.9 731.4 L553.5 732.8" stroke="#555" stroke-width="0.8999999999999999" fill="none" />
<circle cx="542.3" cy="736.6" r="4.1" stroke="#474747" stroke-width="1.5750000000000002" fill="#fff"/>
<path d="M543.1 736.5 L540.4 737.0" stroke="#555" stroke-width="0.8999999999999999" fill="none" />
<circle cx="528.5" cy="736.4" r="4.1" stroke="#474747" stroke-width="1.5750000000000002" fill="#fff"/>
<path d="M529.3 736.6 L526.6 736.0" stroke="#555" stroke-width="0.8999999999999999" fill="none" />
<circle cx="515.8" cy="731.2" r="4.1" stroke="#474747" stroke-width="1.5750000000000002" fill="#fff"/>
<path d="M516.4 731.6 L514.1 730.1" stroke="#555" stroke-width="0.8999999999999999" fill="none" />
<circle cx="505.8" cy="721.6" r="4.1" stroke="#474747" stroke-width="1.5750000000000002" fill="#fff"/>
<path d="M506.3 722.2 L504.7 719.9" stroke="#555" stroke-width="0.8999999999999999" fill="none" />
<circle cx="500.1" cy="709.0" r="4.1" stroke="#474747" stroke-width="1.5750000000000002" fill="#fff"/>
<path d="M500.3 709.8 L499.6 707.1" stroke="#555" stroke-width="0.8999999999999999" fill="none" />
<circle cx="498.1" cy="695.3" r="4.1" stroke="#474747" stroke-width="1.5750000000000002" fill="#fff"/>
<path d="M498.2 696.1 L497.8 693.3" stroke="#555" stroke-width="0.8999999999999999" fill="none" />
<path d="M498.0 690.7 L498.0 686.0" stroke="#666" stroke-width="0.8999999999999999" fill="none" />
<circle cx="498.0" cy="681.5" r="4.0" stroke="#474747" stroke-width="1.2000000000000002" fill="#fff"/>
<path d="M497.9 682.3 L498.2 679.5" stroke="#555" stroke-width="0.8999999999999999" fill="none" />
<path d="M498.5 676.9 L498.9 672.2" stroke="#666" stroke-width="0.8999999999999999" fill="none" />
<circle cx="499.4" cy="667.7" r="4.0" stroke="#474747" stroke-width="1.2000000000000002" fill="#fff"/>
<path d="M499.3 668.5 L499.6 665.7" stroke="#555" stroke-width="0.8999999999999999" fill="none" />
<path d="M499.8 663.1 L500.2 658.4" stroke="#666" stroke-width="0.8999999999999999" fill="none" />
<circle cx="500.6" cy="653.8" r="4.0" stroke="#474747" stroke-width="1.2000000000000002" fill="#fff"/>
<path d="M500.5 654.6 L500.7 651.8" stroke="#555" stroke-width="0.8999999999999999" fill="none" />
<path d="M500.9 649.3 L501.2 644.5" stroke="#666" stroke-width="0.8999999999999999" fill="none" />
<circle cx="501.5" cy="640.0" r="4.0" stroke="#474747" stroke-width="1.2000000000000002" fill="#fff"/>
<path d="M501.4 640.8 L501.6 638.0" stroke="#555" stroke-width="0.8999999999999999" fill="none" />
<path d="M501.8 635.4 L502.2 630.7" stroke="#666" stroke-width="0.8999999999999999" fill="none" />
<circle cx="502.5" cy="626.1" r="4.0" stroke="#474747" stroke-width="1.2000000000000002" fill="#fff"/>
<path d="M502.4 626.9 L502.7 624.1" stroke="#555" stroke-width="0.8999999999999999" fill="none" />
<path d="M502.9 621.6 L503.3 616.9" stroke="#666" stroke-width="0.8999999999999999" fill="none" />
<circle cx="503.7" cy="612.3" r="4.0" stroke="#474747" stroke-width="1.2000000000000002" fill="#fff"/>
<path d="M503.6 613.1 L503.8 610.3" stroke="#555" stroke-width="0.8999999999999999" fill="none" />
<path d="M504.0 607.7 L504.3 603.0" stroke="#666" stroke-width="0.8999999999999999" fill="none" />
<circle cx="504.7" cy="598.4" r="4.0" stroke="#474747" stroke-width="1.2000000000000002" fill="#fff"/>
<path d="M504.6 599.2 L504.8 596.4" stroke="#555" stroke-width="0.8999999999999999" fill="none" />
<path d="M505.1 593.9 L505.5 589.2" stroke="#666" stroke-width="0.8999999999999999" fill="none" />
<circle cx="505.9" cy="584.6" r="4.0" stroke="#474747" stroke-width="1.2000000000000002" fill="#fff"/>
<path d="M505.8 585.4 L506.0 582.6" stroke="#555" stroke-width="0.8999999999999999" fill="none" />
<path d="M506.2 580.0 L506.5 575.3" stroke="#666" stroke-width="0.8999999999999999" fill="none" />
<circle cx="506.8" cy="570.7" r="4.0" stroke="#474747" stroke-width="1.2000000000000002" fill="#fff"/>
<path d="M506.8 571.5 L507.0 568.7" stroke="#555" stroke-width="0.8999999999999999" fill="none" />
<path d="M507.1 566.2 L507.4 561.4" stroke="#666" stroke-width="0.8999999999999999" fill="none" />
<circle cx="507.6" cy="556.9" r="4.0" stroke="#474747" stroke-width="1.2000000000000002" fill="#fff"/>
<path d="M507.6 557.7 L507.7 554.9" stroke="#555" stroke-width="0.8999999999999999" fill="none" />
<path d="M507.8 552.3 L507.9 547.6" stroke="#666" stroke-width="0.8999999999999999" fill="none" />
<circle cx="508.0" cy="543.0" r="4.0" stroke="#474747" stroke-width="1.2000000000000002" fill="#fff"/>
<path d="M508.0 543.8 L508.1 541.0" stroke="#555" stroke-width="0.8999999999999999" fill="none" />
<path d="M508.1 538.4 L508.2 533.7" stroke="#666" stroke-width="0.8999999999999999" fill="none" />
<circle cx="508.3" cy="529.1" r="4.0" stroke="#474747" stroke-width="1.2000000000000002" fill="#fff"/>
<path d="M508.3 529.9 L508.3 527.1" stroke="#555" stroke-width="0.8999999999999999" fill="none" />
<path d="M508.2 524.5 L508.0 519.8" stroke="#666" stroke-width="0.8999999999999999" fill="none" />
<circle cx="507.9" cy="515.2" r="4.0" stroke="#474747" stroke-width="1.2000000000000002" fill="#fff"/>
<path d="M507.9 516.0 L507.7 513.2" stroke="#555" stroke-width="0.8999999999999999" fill="none" />
<path d="M507.3 510.7 L506.7 506.0" stroke="#666" stroke-width="0.8999999999999999" fill="none" />
<circle cx="506.2" cy="501.4" r="4.0" stroke="#474747" stroke-width="1.2000000000000002" fill="#fff"/>
<path d="M506.3 502.2 L505.8 499.5" stroke="#555" stroke-width="0.8999999999999999" fill="none" />
<path d="M505.2 496.9 L504.3 492.3" stroke="#666" stroke-width="0.8999999999999999" fill="none" />
<circle cx="503.4" cy="487.8" r="4.0" stroke="#474747" stroke-width="1.2000000000000002" fill="#fff"/>
<path d="M503.5 488.6 L502.9 485.9" stroke="#555" stroke-width="0.8999999999999999" fill="none" />
<path d="M502.2 483.4 L501.1 478.8" stroke="#666" stroke-width="0.8999999999999999" fill="none" />
<circle cx="500.0" cy="474.4" r="4.0" stroke="#474747" stroke-width="1.2000000000000002" fill="#fff"/>
<path d="M500.2 475.1 L499.4 472.4" stroke="#555" stroke-width="0.8999999999999999" fill="none" />
<path d="M498.5 470.0 L497.0 465.5" stroke="#666" stroke-width="0.8999999999999999" fill="none" />
<circle cx="495.6" cy="461.2" r="4.0" stroke="#474747" stroke-width="1.2000000000000002" fill="#fff"/>
<path d="M495.9 461.9 L495.0 459.3" stroke="#555" stroke-width="0.8999999999999999" fill="none" />
<path d="M494.2 456.8 L492.7 452.3" stroke="#666" stroke-width="0.8999999999999999" fill="none" />
<circle cx="491.2" cy="448.0" r="4.0" stroke="#474747" stroke-width="1.2000000000000002" fill="#fff"/>
<path d="M491.5 448.7 L490.5 446.2" stroke="#555" stroke-width="0.8999999999999999" fill="none" />
<path d="M489.3 443.9 L487.2 439.6" stroke="#666" stroke-width="0.8999999999999999" fill="none" />
<circle cx="485.3" cy="435.5" r="4.0" stroke="#474747" stroke-width="1.2000000000000002" fill="#fff"/>
<path d="M485.6 436.2 L484.4 433.7" stroke="#555" stroke-width="0.8999999999999999" fill="none" />
<path d="M483.2 431.3 L481.2 427.1" stroke="#666" stroke-width="0.8999999999999999" fill="none" />
<circle cx="479.2" cy="423.0" r="4.0" stroke="#474747" stroke-width="1.2000000000000002" fill="#fff"/>
<path d="M479.6 423.7 L478.1 421.3" stroke="#555" stroke-width="0.8999999999999999" fill="none" />
<path d="M476.6 419.2 L474.0 415.2" stroke="#666" stroke-width="0.8999999999999999" fill="none" />
<circle cx="471.5" cy="411.4" r="4.0" stroke="#474747" stroke-width="1.2000000000000002" fill="#fff"/>
<path d="M471.9 412.1 L470.3 409.8" stroke="#555" stroke-width="0.8999999999999999" fill="none" />
<path d="M468.8 407.7 L466.0 403.9" stroke="#666" stroke-width="0.8999999999999999" fill="none" />
<circle cx="463.3" cy="400.2" r="4.0" stroke="#474747" stroke-width="1.2000000000000002" fill="#fff"/>
<path d="M463.8 400.8 L462.1 398.6" stroke="#555" stroke-width="0.8999999999999999" fill="none" />
<path d="M460.4 396.6 L457.4 393.0" stroke="#666" stroke-width="0.8999999999999999" fill="none" />
<circle cx="454.6" cy="389.4" r="4.0" stroke="#474747" stroke-width="1.2000000000000002" fill="#fff"/>
<path d="M455.1 390.0 L453.3 387.8" stroke="#555" stroke-width="0.8999999999999999" fill="none" />
<path d="M451.8 385.7 L448.9 382.0" stroke="#666" stroke-width="0.8999999999999999" fill="none" />
<circle cx="446.2" cy="378.3" r="4.0" stroke="#474747" stroke-width="1.2000000000000002" fill="#fff"/>
<path d="M446.6 379.0 L445.0 376.7" stroke="#555" stroke-width="0.8999999999999999" fill="none" />
<path d="M443.4 374.7 L440.6 370.9" stroke="#666" stroke-width="0.8999999999999999" fill="none" />
<circle cx="437.9" cy="367.2" r="4.0" stroke="#474747" stroke-width="1.2000000000000002" fill="#fff"/>
<path d="M438.4 367.8 L436.7 365.6" stroke="#555" stroke-width="0.8999999999999999" fill="none" />
<path d="M435.1 363.5 L432.2 359.8" stroke="#666" stroke-width="0.8999999999999999" fill="none" />
<circle cx="429.5" cy="356.1" r="4.0" stroke="#474747" stroke-width="1.2000000000000002" fill="#fff"/>
<path d="M429.9 356.8 L428.3 354.5" stroke="#555" stroke-width="0.8999999999999999" fill="none" />
<path d="M426.8 352.4 L424.0 348.6" stroke="#666" stroke-width="0.8999999999999999" fill="none" />
<circle cx="421.3" cy="344.9" r="4.0" stroke="#474747" stroke-width="1.2000000000000002" fill="#fff"/>
<path d="M421.8 345.5 L420.1 343.3" stroke="#555" stroke-width="0.8999999999999999" fill="none" />
<path d="M418.8 341.1 L416.2 337.1" stroke="#666" stroke-width="0.8999999999999999" fill="none" />
<circle cx="413.6" cy="333.3" r="4.1" stroke="#474747" stroke-width="1.5750000000000002" fill="#fff"/>
<path d="M414.1 334.0 L412.5 331.6" stroke="#555" stroke-width="0.8999999999999999" fill="none" />
<circle cx="406.3" cy="321.5" r="4.1" stroke="#474747" stroke-width="1.5750000000000002" fill="#fff"/>
<path d="M406.7 322.2 L405.4 319.7" stroke="#555" stroke-width="0.8999999999999999" fill="none" />
<circle cx="401.5" cy="308.5" r="4.1" stroke="#474747" stroke-width="1.5750000000000002" fill="#fff"/>
<path d="M401.7 309.3 L401.0 306.6" stroke="#555" stroke-width="0.8999999999999999" fill="none" />
<circle cx="399.8" cy="294.6" r="4.7" stroke="#111" stroke-width="0.75" fill="#1c1c1c"/>
<circle cx="400.9" cy="308.2" r="4.9" stroke="#111" stroke-width="0.75" fill="#1c1c1c"/>
<circle cx="663.1" cy="266.7" r="4.7" stroke="#111" stroke-width="0.75" fill="#1c1c1c"/>
<path d="M408.0 299.0 L414.5 298.4" stroke="#222" stroke-width="2.55" fill="none" />
<path d="M543.0 284.6 L551.0 284.6" stroke="#222" stroke-width="3.0" fill="none" />
<path d="M651.0 275.2 L661.0 274.4" stroke="#222" stroke-width="3.3000000000000003" fill="none" />
<path d="M420.0 506.2 L653.0 506.5" stroke="#5a5a5a" stroke-width="1.275" fill="none" />
<path d="M362.3 304.1 L364.0 308.2 L368.7 311.1 L371.0 318.1 L378.7 336.9 L383.9 346.2 L386.3 362.7 L383.4 367.9 L363.4 372.0 L354.0 377.9 L355.2 382.6 L362.9 410.0 L364.2 416.0 L365.2 421.8 L380.8 474.7 L384.7 498.9 L416.7 499.7 L421.4 505.2" stroke="#4c4c4c" stroke-width="1.17" fill="none" />
<path d="M362.3 304.1 L375.2 302.3" stroke="#4c4c4c" stroke-width="1.17" fill="none" />
<path d="M375.2 302.3 L376.3 313.4 L384.5 335.7 L390.4 345.1 L392.7 372.0 L397.4 395.5 L400.9 410.0 L408.0 431.6 L433.5 494.0 L434.2 520.0 L435.5 606.0" stroke="#4c4c4c" stroke-width="1.17" fill="none" />
<path d="M366.0 417.0 L370.0 422.0 L389.6 497.0" stroke="#4c4c4c" stroke-width="1.17" fill="none" />
<path d="M371.0 379.0 L371.4 378.0 L371.9 377.4 L372.4 377.0 L373.0 376.8 L373.7 376.7 L374.4 376.7 L375.2 376.6 L376.0 376.5 L376.9 376.3 L377.9 376.2 L379.0 376.0 L380.1 375.9 L381.2 375.8 L382.2 375.8 L383.2 375.9 L384.0 376.0 L384.7 376.1 L385.3 376.2 L385.9 376.3 L386.3 376.5 L386.8 376.8 L387.2 377.3 L387.6 378.0 L388.0 379.0 L388.4 380.4 L388.8 382.2 L389.1 384.2 L389.5 386.4 L389.8 388.6 L390.1 390.9 L390.3 393.1 L390.5 395.0 L390.7 396.8 L390.8 398.7 L391.0 400.5 L391.1 402.2 L391.2 403.9 L391.2 405.5 L391.1 406.8 L391.0 408.0 L390.8 408.9 L390.6 409.7 L390.4 410.3 L390.1 410.7 L389.7 411.1 L389.3 411.4 L388.7 411.7 L388.0 412.0 L387.1 412.3 L386.1 412.6 L384.8 412.9 L383.6 413.2 L382.3 413.3 L381.0 413.5 L379.9 413.5 L379.0 413.5 L378.3 413.5 L377.7 413.5 L377.2 413.4 L376.7 413.3 L376.3 413.1 L375.9 412.7 L375.5 412.0 L375.0 411.0 L374.4 409.6 L373.8 407.9 L373.1 406.0 L372.5 403.8 L371.8 401.6 L371.3 399.3 L370.8 397.1 L370.5 395.0 L370.3 392.9 L370.2 390.7 L370.1 388.4 L370.2 386.2 L370.3 384.0 L370.4 382.1 L370.7 380.4 Z" stroke="#4c4c4c" stroke-width="1.17" fill="none" />
<path d="M357.5 381.5 L366.8 415.0" stroke="#4c4c4c" stroke-width="1.17" fill="none" />
<path d="M355.0 383.0 L358.0 382.0" stroke="#4c4c4c" stroke-width="1.17" fill="none" />
<path d="M361.0 403.0 L371.0 400.0" stroke="#4c4c4c" stroke-width="1.17" fill="none" />
<path d="M370.0 439.4 L378.8 478.4" stroke="#222" stroke-width="2.7" fill="none" />
<path d="M370.0 439.4 L405.2 431.6" stroke="#4c4c4c" stroke-width="1.17" fill="none" />
<path d="M368.1 460.9 L425.7 447.2" stroke="#444" stroke-width="1.2000000000000002" fill="none" stroke-dasharray="7 2 1.5 2" />
<path d="M378.8 477.5 L421.8 467.7" stroke="#4c4c4c" stroke-width="1.17" fill="none" />
<path d="M400.3 398.4 L400.8 398.3 L401.5 398.0 L402.3 397.8 L403.2 397.5 L404.3 397.2 L405.4 397.1 L406.7 397.2 L408.1 397.4 L409.7 397.8 L411.5 398.5 L413.4 399.2 L415.4 400.0 L417.5 401.0 L419.7 402.0 L421.7 403.1 L423.7 404.2 L425.6 405.3 L427.5 406.4 L429.3 407.6 L431.2 408.9 L433.1 410.2 L434.9 411.7 L436.9 413.4 L438.8 415.2 L440.8 417.2 L442.8 419.5 L444.9 421.9 L447.0 424.4 L449.1 427.1 L451.2 429.8 L453.2 432.5 L455.2 435.2 L457.2 437.9 L459.2 440.6 L461.2 443.4 L463.2 446.2 L465.1 449.2 L467.0 452.2 L468.7 455.3 L470.4 458.6 L472.0 462.1 L473.5 465.8 L474.9 469.7 L476.2 473.7 L477.5 477.7 L478.7 481.6 L479.9 485.5 L481.0 489.1 L482.0 492.6 L483.0 496.0 L483.8 499.3 L484.7 502.5 L485.4 505.7 L486.1 508.8 L486.8 511.9 L487.5 515.0 L488.1 518.0 L488.7 520.9 L489.2 523.8 L489.7 526.6 L490.2 529.4 L490.6 532.2 L491.1 535.1 L491.5 538.0 L491.9 540.9 L492.3 543.7 L492.7 546.5 L493.1 549.4 L493.4 552.3 L493.7 555.3 L494.0 558.6 L494.3 562.0 L494.6 565.7 L494.8 569.7 L495.1 574.0 L495.3 578.3 L495.5 582.6 L495.6 586.9 L495.7 591.1 L495.8 595.0 L495.8 598.8 L495.7 602.6 L495.6 606.4 L495.4 610.0 L495.3 613.5 L495.1 616.8 L495.0 619.8 L494.9 622.5 L494.9 624.8 L494.9 626.8 L495.0 628.5 L495.1 630.0 L495.2 631.3 L495.2 632.6 L495.1 633.8 L494.8 635.0 L494.4 636.2 L494.0 637.4 L493.5 638.5 L492.9 639.5 L492.2 640.4 L491.4 641.3 L490.5 642.1 L489.4 642.8 L488.1 643.4 L486.5 644.0 L484.7 644.4 L482.8 644.8 L481.0 645.2 L479.3 645.5 L477.9 645.7 L476.9 645.9" stroke="#4c4c4c" stroke-width="1.17" fill="none" />
<path d="M407.1 399.9 L408.8 400.6 L411.2 401.5 L413.9 402.6 L416.9 403.8 L419.8 405.2 L422.4 406.6 L424.8 408.0 L427.3 409.5 L429.6 411.1 L432.0 412.8 L434.4 414.8 L436.9 417.1 L439.5 419.8 L442.2 422.8 L444.9 426.1 L447.6 429.6 L450.4 433.2 L453.0 436.8 L455.7 440.4 L458.3 444.1 L460.9 447.8 L463.4 451.6 L465.8 455.6 L468.0 459.8 L470.0 464.4 L471.9 469.3 L473.7 474.5 L475.4 479.8 L476.9 485.0 L478.4 489.9 L479.8 494.4 L481.0 498.9 L482.0 503.2 L483.0 507.4 L484.0 511.5 L484.9 515.6 L485.7 519.5 L486.4 523.3 L487.1 527.1 L487.7 530.8 L488.3 534.5 L488.8 538.4 L489.4 542.2 L489.9 545.9 L490.4 549.7 L490.8 553.6 L491.2 557.7 L491.6 562.2 L492.0 567.2 L492.3 572.7 L492.6 578.4 L492.8 584.2 L493.0 589.8 L493.1 595.0 L493.1 600.2 L492.9 605.5 L492.7 610.7 L492.5 615.4 L492.3 619.4 L492.2 622.4" stroke="#4c4c4c" stroke-width="1.17" fill="none" />
<path d="M400.3 398.4 L400.3 399.2 L400.3 400.2 L400.3 401.5 L400.4 402.9 L400.5 404.3 L400.6 405.7 L400.9 407.0 L401.3 408.1 L401.8 409.0 L402.4 409.8 L403.1 410.5 L403.9 411.2 L404.8 411.8 L405.8 412.5 L406.9 413.2 L408.1 414.0 L409.5 414.9 L411.2 415.9 L413.1 416.9 L415.1 418.0 L417.0 419.1 L418.8 420.1 L420.4 421.0 L421.8 421.8 L422.9 422.5 L423.8 423.2 L424.6 423.8 L425.3 424.4 L425.8 424.9 L426.3 425.3 L426.7 425.7 L427.0 426.0" stroke="#4c4c4c" stroke-width="1.17" fill="none" />
<path d="M427.7 415.0 L427.4 416.0 L426.9 417.2 L426.2 418.7 L425.6 420.4 L425.0 422.2 L424.4 424.0 L424.0 425.9 L423.8 427.7 L423.7 429.5 L423.6 431.4 L423.7 433.4 L423.9 435.4 L424.1 437.5 L424.5 439.5 L425.0 441.4 L425.7 443.3 L426.5 445.1 L427.5 447.0 L428.5 448.8 L429.7 450.5 L431.1 452.2 L432.5 453.9 L433.9 455.5 L435.5 457.0 L437.2 458.5 L439.0 459.9 L441.0 461.4 L443.1 462.7 L445.1 463.9 L447.2 465.1 L449.2 466.0 L451.1 466.7 L453.0 467.2 L455.0 467.4 L457.0 467.4 L458.9 467.3 L460.7 467.1 L462.4 466.9 L463.8 466.8 L464.8 466.7" stroke="#4c4c4c" stroke-width="1.17" fill="none" />
<path d="M427.7 415.0 L428.7 415.8 L430.1 416.7 L431.8 417.8 L433.6 419.1 L435.6 420.6 L437.6 422.2 L439.5 423.9 L441.3 425.7 L443.0 427.7 L444.8 429.9 L446.6 432.3 L448.4 434.8 L450.1 437.4 L451.8 440.0 L453.5 442.6 L455.0 445.2 L456.5 447.9 L458.0 450.9 L459.4 454.1 L460.8 457.2 L462.0 460.1 L463.1 462.8 L464.1 465.0 L464.8 466.7" stroke="#4c4c4c" stroke-width="1.17" fill="none" />
<path d="M455.0 468.7 L456.0 471.5 L457.4 475.3 L459.0 479.7 L460.8 484.7 L462.6 490.0 L464.4 495.4 L466.1 500.8 L467.5 505.9 L468.7 510.9 L469.9 516.1 L471.0 521.4 L472.0 526.7 L472.9 532.1 L473.8 537.5 L474.6 542.8 L475.3 548.0 L475.9 553.4 L476.5 558.9 L477.0 564.6 L477.4 570.2 L477.8 575.6 L478.1 580.6 L478.3 585.0 L478.4 588.8 L478.5 591.7 L478.5 594.0 L478.4 595.8 L478.2 597.2 L478.0 598.3 L477.7 599.2 L477.3 600.2 L476.9 601.2 L476.3 602.4 L475.5 603.4 L474.6 604.3 L473.7 605.2 L472.7 605.9 L471.8 606.5 L471.1 607.1 L470.6 607.5" stroke="#4c4c4c" stroke-width="1.17" fill="none" />
<path d="M478.4 593.6 L492.5 592.8" stroke="#4c4c4c" stroke-width="1.17" fill="none" />
<path d="M421.4 505.2 L420.6 508.3 L421.4 513.8 L426.9 520.0 L427.7 591.9 L425.3 618.4 L419.0 623.0 L417.5 623.0" stroke="#4c4c4c" stroke-width="1.17" fill="none" />
<path d="M420.6 508.3 L439.4 508.3" stroke="#4c4c4c" stroke-width="1.17" fill="none" />
<path d="M417.5 642.8 L423.0 646.7 L419.0 655.3 L419.0 662.3" stroke="#4c4c4c" stroke-width="1.17" fill="none" />
<path d="M419.0 662.3 L466.7 662.3" stroke="#222" stroke-width="2.25" fill="none" />
<path d="M466.7 662.3 L476.0 662.3" stroke="#4c4c4c" stroke-width="1.17" fill="none" />
<path d="M430.0 605.3 L461.2 605.3" stroke="#4c4c4c" stroke-width="1.17" fill="none" />
<path d="M430.0 605.3 L430.0 662.3" stroke="#4c4c4c" stroke-width="1.17" fill="none" />
<path d="M430.0 613.0 L453.4 613.0" stroke="#4c4c4c" stroke-width="1.17" fill="none" />
<path d="M437.0 613.0 L437.0 662.3" stroke="#444" stroke-width="1.35" fill="none" stroke-dasharray="4 2.5" />
<circle cx="466.0" cy="628.6" r="9.0" stroke="#222" stroke-width="2.0250000000000004" fill="none"/>
<circle cx="466.0" cy="628.6" r="18.0" stroke="#4c4c4c" stroke-width="1.17" fill="none"/>
<circle cx="466.0" cy="628.6" r="13.5" stroke="#444" stroke-width="1.2000000000000002" fill="none" stroke-dasharray="3 2"/>
<circle cx="466.0" cy="628.6" r="15.5" stroke="#444" stroke-width="1.2000000000000002" fill="none"/>
<path d="M466.0 619.6 L467.0 637.6" stroke="#333" stroke-width="1.2000000000000002" fill="none" />
<path d="M458.0 628.6 L474.0 628.6" stroke="#333" stroke-width="1.2000000000000002" fill="none" />
<path d="M480.0 628.0 L497.0 625.5" stroke="#666" stroke-width="1.0499999999999998" fill="none" />
<path d="M406.6 625.6 L413.6 625.6 L413.6 641.2 L406.6 641.2 Z" stroke="#4c4c4c" stroke-width="1.17" fill="none" />
<path d="M413.6 623.3 L417.5 623.3 L417.5 642.8 L413.6 642.8 Z" stroke="#222" stroke-width="1.17" fill="#555" />
<path d="M417.5 627.2 L444.0 627.2" stroke="#4c4c4c" stroke-width="1.17" fill="none" />
<path d="M417.5 638.9 L444.0 638.9" stroke="#4c4c4c" stroke-width="1.17" fill="none" />
<path d="M444.0 627.2 L444.0 638.9" stroke="#4c4c4c" stroke-width="1.17" fill="none" />
<path d="M398.8 633.4 L404.0 633.4" stroke="#333" stroke-width="1.5" fill="none" />
<path d="M420.0 633.4 L447.0 633.4" stroke="#555" stroke-width="1.0499999999999998" fill="none" stroke-dasharray="4 2.5" />
<path d="M434.0 629.0 L438.0 637.0" stroke="#333" stroke-width="2.4000000000000004" fill="none" />
<path d="M470.6 644.4 L470.4 645.0 L470.1 645.7 L469.8 646.6 L469.5 647.6 L469.1 648.6 L468.7 649.7 L468.4 650.9 L468.0 652.0 L467.6 653.2 L467.2 654.6 L466.8 656.1 L466.4 657.6 L466.1 659.1 L465.7 660.4 L465.4 661.5 L465.2 662.3" stroke="#4c4c4c" stroke-width="1.17" fill="none" />
<path d="M484.5 628.0 L484.6 628.8 L484.8 629.9 L484.9 631.2 L485.1 632.7 L485.3 634.2 L485.6 635.6 L485.8 636.9 L486.0 638.0 L486.2 638.9 L486.5 639.7 L486.8 640.5 L487.1 641.1 L487.4 641.7 L487.6 642.2 L487.8 642.6 L488.0 643.0" stroke="#4c4c4c" stroke-width="1.17" fill="none" />
<path d="M461.0 541.0 L462.0 609.4" stroke="#444" stroke-width="1.2000000000000002" fill="none" stroke-dasharray="7 2 1.5 2" />
<path d="M448.4 583.0 L458.1 606.4" stroke="#444" stroke-width="1.2000000000000002" fill="none" stroke-dasharray="7 2 1.5 2" />
<path d="M466.0 648.4 L471.8 677.7" stroke="#444" stroke-width="1.2000000000000002" fill="none" stroke-dasharray="4 2.5" />
<path d="M462.5 590.0 L463.3 610.0" stroke="#444" stroke-width="2.0999999999999996" fill="none" stroke-dasharray="4 2.5" />
<path d="M466.5 590.0 L467.0 610.0" stroke="#444" stroke-width="2.0999999999999996" fill="none" stroke-dasharray="4 2.5" />
<path d="M681.8 272.2 L694.2 271.3" stroke="#4c4c4c" stroke-width="1.17" fill="none" />
<path d="M690.5 271.8 L690.6 274.0 L690.8 276.8 L690.9 280.2 L691.1 284.0 L691.4 288.1 L691.6 292.2 L691.9 296.2 L692.2 300.0 L692.5 303.7 L692.9 307.6 L693.3 311.5 L693.8 315.5 L694.2 319.3 L694.7 323.1 L695.1 326.7 L695.5 330.0 L695.9 333.1 L696.4 336.2 L696.9 339.1 L697.4 341.8 L697.9 344.4 L698.2 346.7 L698.5 348.9 L698.6 350.8 L698.5 352.4 L698.3 353.8 L697.9 355.0 L697.5 355.9 L697.0 356.7 L696.6 357.3 L696.2 357.9 L696.0 358.4" stroke="#4c4c4c" stroke-width="1.17" fill="none" />
<path d="M659.2 338.1 L659.4 337.8 L659.7 337.3 L660.0 336.7 L660.4 336.1 L660.8 335.5 L661.2 335.0 L661.6 334.5 L662.0 334.2 L662.4 334.0 L662.8 333.9 L663.3 333.8 L663.7 333.8 L664.2 333.8 L664.7 333.9 L665.1 334.1 L665.6 334.3 L666.1 334.6 L666.6 334.9 L667.1 335.3 L667.6 335.8 L668.1 336.3 L668.5 336.9 L669.0 337.5 L669.4 338.1 L669.8 338.8 L670.1 339.6 L670.3 340.5 L670.6 341.3 L670.8 342.2 L671.1 343.1 L671.5 343.8 L671.9 344.5 L672.4 345.1 L673.1 345.6 L673.8 346.0 L674.6 346.4 L675.3 346.8 L676.0 347.1 L676.6 347.4 L677.0 347.6" stroke="#4c4c4c" stroke-width="1.17" fill="none" />
<path d="M677.0 347.6 L696.0 358.4" stroke="#4c4c4c" stroke-width="1.17" fill="none" />
<path d="M673.0 349.0 L672.6 349.5 L672.1 350.2 L671.4 351.1 L670.7 352.0 L670.0 353.0 L669.3 354.1 L668.6 355.1 L668.0 356.0 L667.4 356.9 L666.8 357.9 L666.2 358.9 L665.7 359.9 L665.2 360.8 L664.8 361.8 L664.5 362.7 L664.3 363.5 L664.2 364.2 L664.2 364.9 L664.3 365.5 L664.4 366.0 L664.7 366.6 L665.2 367.2 L665.9 367.9 L666.8 368.6 L668.1 369.5 L669.8 370.5 L671.8 371.6 L674.0 372.7 L676.1 373.8 L678.0 374.8 L679.6 375.6 L680.8 376.2" stroke="#4c4c4c" stroke-width="1.17" fill="none" />
<path d="M655.1 348.5 L718.2 385.2" stroke="#444" stroke-width="1.0499999999999998" fill="none" stroke-dasharray="4 2.5" />
<path d="M694.4 357.5 L697.0 359.0 L685.0 379.7 L682.4 378.2 Z" stroke="#222" stroke-width="1.17" fill="#444" />
<path d="M672.9 353.6 L692.0 364.7" stroke="#4c4c4c" stroke-width="1.17" fill="none" />
<path d="M668.4 361.4 L687.4 372.5" stroke="#4c4c4c" stroke-width="1.17" fill="none" />
<path d="M672.9 353.6 L668.4 361.4" stroke="#4c4c4c" stroke-width="1.17" fill="none" />
<path d="M675.5 355.2 L672.3 363.7" stroke="#333" stroke-width="1.2000000000000002" fill="none" />
<path d="M678.1 356.7 L674.9 365.2" stroke="#333" stroke-width="1.2000000000000002" fill="none" />
<path d="M680.7 358.2 L677.5 366.7" stroke="#333" stroke-width="1.2000000000000002" fill="none" />
<path d="M683.3 359.7 L680.1 368.2" stroke="#333" stroke-width="1.2000000000000002" fill="none" />
<path d="M685.9 361.2 L682.7 369.7" stroke="#333" stroke-width="1.2000000000000002" fill="none" />
<path d="M688.5 362.7 L685.3 371.2" stroke="#333" stroke-width="1.2000000000000002" fill="none" />
<path d="M693.3 365.5 L705.8 372.8" stroke="#4c4c4c" stroke-width="1.17" fill="none" />
<path d="M688.7 373.2 L701.3 380.5" stroke="#4c4c4c" stroke-width="1.17" fill="none" />
<path d="M705.7 371.0 L715.2 376.5 L709.2 386.9 L699.6 381.3 Z" stroke="#4c4c4c" stroke-width="1.17" fill="none" />
<path d="M699.4 367.9 L693.8 377.4" stroke="#333" stroke-width="1.7999999999999998" fill="none" />
<path d="M701.5 369.1 L696.0 378.6" stroke="#333" stroke-width="1.7999999999999998" fill="none" />
<path d="M703.7 370.4 L698.2 379.9" stroke="#333" stroke-width="1.7999999999999998" fill="none" />
<path d="M712.2 381.7 L718.2 385.2" stroke="#4c4c4c" stroke-width="1.17" fill="none" />
<path d="M676.9 350.8 L692.5 359.8" stroke="#4c4c4c" stroke-width="1.17" fill="none" />
<path d="M676.9 350.8 L676.6 350.7 L676.1 350.6 L675.6 350.4 L675.0 350.3 L674.3 350.2 L673.7 350.1 L673.1 350.2 L672.5 350.5 L671.9 350.9 L671.3 351.5 L670.7 352.1 L670.1 352.9 L669.6 353.7 L669.0 354.5 L668.5 355.3 L668.1 356.0 L667.7 356.7 L667.3 357.5 L666.9 358.2 L666.6 359.0 L666.3 359.7 L666.1 360.4 L666.0 361.1 L665.9 361.7 L666.0 362.3 L666.2 363.0 L666.5 363.6 L666.9 364.2 L667.3 364.7 L667.6 365.2 L667.9 365.6 L668.1 365.9" stroke="#4c4c4c" stroke-width="1.17" fill="none" />
<path d="M668.1 365.9 L683.7 374.9" stroke="#4c4c4c" stroke-width="1.17" fill="none" />
<path d="M696.0 358.4 L697.0 387.6" stroke="#4c4c4c" stroke-width="1.17" fill="none" />
<path d="M697.3 387.6 L696.9 387.8 L696.4 388.0 L695.8 388.2 L695.1 388.5 L694.4 388.8 L693.6 389.1 L692.8 389.3 L692.0 389.5 L691.1 389.6 L690.1 389.8 L689.1 389.9 L688.0 390.0 L686.9 390.0 L686.0 390.1 L685.2 390.2 L684.6 390.2" stroke="#4c4c4c" stroke-width="1.17" fill="none" />
<path d="M684.6 390.2 L683.9 391.4 L682.8 393.0 L681.6 395.0 L680.3 397.1 L678.9 399.4 L677.5 401.7 L676.2 403.9 L675.0 406.0 L673.9 408.0 L672.9 409.9 L671.9 411.8 L670.9 413.8 L669.9 415.7 L668.8 417.7 L667.8 419.7 L666.7 421.8 L665.5 423.8 L664.3 425.8 L663.0 427.8 L661.7 429.9 L660.4 432.0 L659.2 434.3 L658.0 436.7 L657.0 439.4 L656.1 442.4 L655.2 445.7 L654.4 449.3 L653.6 452.9 L652.9 456.6 L652.3 460.2 L651.6 463.6 L651.0 466.7 L650.4 469.6 L649.8 472.6 L649.2 475.4 L648.7 478.2 L648.2 480.7 L647.8 482.9 L647.5 484.7 L647.2 486.2" stroke="#4c4c4c" stroke-width="1.17" fill="none" />
<path d="M647.2 486.2 L647.6 487.0 L648.2 488.1 L648.8 489.3 L649.5 490.7 L650.3 492.2 L651.0 493.6 L651.5 494.9 L652.0 496.0 L652.3 496.9 L652.5 497.7 L652.7 498.4 L652.8 499.1 L652.9 499.7 L652.9 500.4 L652.9 501.1 L653.0 501.9 L653.1 502.8 L653.1 503.7 L653.2 504.6 L653.2 505.6 L653.3 506.6 L653.2 507.6 L653.2 508.6 L653.0 509.7 L652.8 510.8 L652.5 512.0 L652.1 513.2 L651.7 514.4 L651.3 515.7 L650.8 516.9 L650.4 518.0 L650.0 519.0 L649.6 520.0 L649.2 520.9 L648.7 521.9 L648.3 522.7 L647.9 523.5 L647.5 524.2 L647.2 524.8 L647.0 525.3" stroke="#4c4c4c" stroke-width="1.17" fill="none" />
<path d="M680.8 387.6 L679.8 389.1 L678.4 391.2 L676.8 393.7 L675.0 396.4 L673.1 399.2 L671.2 402.0 L669.5 404.7 L668.0 407.0 L666.7 409.0 L665.5 410.7 L664.4 412.3 L663.4 413.8 L662.3 415.4 L661.3 417.2 L660.1 419.3 L658.9 421.8 L657.6 424.7 L656.2 427.9 L654.7 431.4 L653.2 435.1 L651.7 439.0 L650.2 442.9 L648.7 447.0 L647.2 451.0 L645.7 455.2 L644.1 459.7 L642.6 464.3 L641.0 469.0 L639.5 473.6 L638.0 478.1 L636.7 482.3 L635.5 486.2 L634.5 489.7 L633.6 493.0 L632.8 496.1 L632.1 499.1 L631.4 501.8 L630.8 504.5 L630.2 507.1 L629.6 509.7 L629.0 512.3 L628.4 514.9 L627.8 517.5 L627.3 520.0 L626.8 522.2 L626.4 524.3 L626.0 526.0 L625.7 527.3" stroke="#4c4c4c" stroke-width="1.17" fill="none" />
<path d="M644.0 387.6 L679.5 387.6" stroke="#4c4c4c" stroke-width="1.17" fill="none" />
<path d="M664.3 372.4 L664.0 373.0 L663.6 373.8 L663.0 374.7 L662.5 375.7 L661.9 376.8 L661.4 377.9 L660.9 379.0 L660.5 380.0 L660.2 381.0 L660.0 382.1 L659.8 383.2 L659.6 384.3 L659.5 385.3 L659.4 386.2 L659.3 387.0 L659.2 387.6" stroke="#4c4c4c" stroke-width="1.17" fill="none" />
<path d="M666.8 374.9 L667.4 375.1 L668.1 375.3 L669.0 375.6 L670.0 375.9 L671.0 376.2 L672.1 376.6 L673.1 377.0 L674.0 377.5 L674.9 378.1 L675.9 378.7 L676.9 379.5 L677.9 380.2 L678.8 381.0 L679.6 381.6 L680.3 382.2 L680.8 382.6" stroke="#4c4c4c" stroke-width="1.17" fill="none" />
<path d="M661.8 388.9 L662.4 388.7 L663.3 388.4 L664.3 388.1 L665.4 387.7 L666.6 387.3 L667.8 386.9 L668.9 386.5 L670.0 386.0 L671.1 385.5 L672.3 384.8 L673.5 384.2 L674.7 383.5 L675.8 382.8 L676.8 382.2 L677.7 381.7 L678.3 381.3" stroke="#4c4c4c" stroke-width="1.17" fill="none" />
<path d="M644.0 392.7 L655.0 393.3 L652.0 419.8 L643.3 427.7 L641.3 443.3 L629.6 445.2" stroke="#4c4c4c" stroke-width="1.17" fill="none" />
<path d="M629.6 450.1 L641.3 450.1" stroke="#4c4c4c" stroke-width="1.17" fill="none" />
<path d="M629.6 445.2 L629.6 450.1" stroke="#4c4c4c" stroke-width="1.17" fill="none" />
<path d="M661.8 388.9 L654.0 427.0" stroke="#444" stroke-width="2.0999999999999996" fill="none" stroke-dasharray="4 2.5" />
<path d="M649.0 427.6 L633.5 486.2" stroke="#444" stroke-width="3.3000000000000003" fill="none" />
<path d="M650.5 428.0 L635.0 486.5" stroke="#4c4c4c" stroke-width="1.2000000000000002" fill="none" />
<path d="M645.0 428.0 L631.0 480.0" stroke="#4c4c4c" stroke-width="1.17" fill="none" />
<path d="M634.2 480.0 L633.8 481.8 L633.2 484.2 L632.5 487.0 L631.8 490.1 L631.0 493.4 L630.2 496.8 L629.6 500.0 L629.0 503.0 L628.5 505.9 L628.1 509.1 L627.7 512.3 L627.4 515.4 L627.1 518.3 L626.8 521.0 L626.6 523.2 L626.4 524.9" stroke="#4c4c4c" stroke-width="1.17" fill="none" />
<path d="M626.4 524.9 L634.2 528.8" stroke="#4c4c4c" stroke-width="1.17" fill="none" />
<path d="M625.4 531.8 L632.3 532.7 L631.3 567.9 L618.6 571.8 L616.6 565.9 Z" stroke="#4c4c4c" stroke-width="1.17" fill="none" />
<path d="M639.1 480.0 L639.1 507.3" stroke="#4c4c4c" stroke-width="1.17" fill="none" />
<path d="M646.0 480.0 L646.1 480.9 L646.1 482.2 L646.1 483.7 L646.2 485.4 L646.3 487.1 L646.5 488.8 L646.7 490.3 L647.0 491.7 L647.5 492.9 L648.0 493.9 L648.7 495.0 L649.5 495.9 L650.2 496.8 L650.8 497.7 L651.4 498.6 L651.8 499.5 L652.0 500.5 L652.1 501.4 L652.2 502.5 L652.1 503.4 L652.0 504.4 L651.9 505.2 L651.8 505.9 L651.8 506.4" stroke="#4c4c4c" stroke-width="1.17" fill="none" />
<path d="M651.8 511.2 L651.7 511.9 L651.5 512.7 L651.3 513.7 L651.0 514.8 L650.8 515.9 L650.5 517.0 L650.1 518.1 L649.8 519.0 L649.4 519.7 L648.9 520.1 L648.4 520.3 L647.8 520.6 L647.3 521.1 L646.8 521.9 L646.4 523.1 L646.0 525.0 L645.7 527.6 L645.6 530.8 L645.4 534.5 L645.3 538.5 L645.3 542.7 L645.2 546.9 L645.1 551.1 L645.0 555.0 L644.9 558.9 L644.9 563.0 L644.9 567.1 L644.9 571.3 L644.9 575.3 L644.7 579.1 L644.5 582.5 L644.0 585.5 L643.3 588.0 L642.4 590.2 L641.3 592.0 L640.1 593.7 L638.9 595.1 L637.8 596.4 L636.9 597.7 L636.2 599.1 L635.7 600.5 L635.4 601.9 L635.3 603.2 L635.2 604.4 L635.2 605.5 L635.2 606.5 L635.2 607.3 L635.2 608.0" stroke="#4c4c4c" stroke-width="1.17" fill="none" />
<path d="M640.0 511.0 L651.8 511.0" stroke="#4c4c4c" stroke-width="1.17" fill="none" />
<path d="M635.2 528.8 L634.2 573.8" stroke="#444" stroke-width="3.0" fill="none" />
<path d="M638.1 510.3 L637.1 585.5" stroke="#4c4c4c" stroke-width="1.17" fill="none" />
<path d="M602.0 578.6 L612.7 578.6 L634.2 573.8" stroke="#4c4c4c" stroke-width="1.17" fill="none" />
<path d="M602.0 583.5 L608.8 583.5" stroke="#4c4c4c" stroke-width="1.17" fill="none" />
<path d="M611.8 581.6 L612.3 644.1" stroke="#555" stroke-width="3.5999999999999996" fill="none" />
<path d="M608.8 583.5 L608.8 645.0" stroke="#4c4c4c" stroke-width="1.17" fill="none" />
<path d="M614.9 580.0 L614.9 645.0" stroke="#4c4c4c" stroke-width="1.17" fill="none" />
<path d="M609.0 548.0 L609.5 578.0" stroke="#666" stroke-width="1.0499999999999998" fill="none" stroke-dasharray="4 2.5" />
<path d="M591.2 645.0 L608.8 645.0 L609.8 649.0 L591.2 650.0" stroke="#4c4c4c" stroke-width="1.17" fill="none" />
<path d="M608.8 645.0 L614.9 645.0 L614.9 648.0" stroke="#4c4c4c" stroke-width="1.17" fill="none" />
<path d="M628.4 596.2 L628.4 608.9" stroke="#4c4c4c" stroke-width="1.17" fill="none" />
<path d="M628.4 619.6 L628.4 663.6" stroke="#4c4c4c" stroke-width="1.17" fill="none" />
<path d="M635.8 608.9 L635.8 663.6" stroke="#4c4c4c" stroke-width="1.17" fill="none" />
<path d="M624.8 664.0 L651.0 664.0" stroke="#4c4c4c" stroke-width="1.6500000000000001" fill="none" />
<path d="M602.0 651.9 L601.9 653.0 L601.7 654.5 L601.5 656.3 L601.3 658.3 L601.1 660.4 L601.0 662.3 L600.9 664.1 L601.0 665.5 L601.1 666.6 L601.2 667.6 L601.2 668.4 L601.4 669.1 L601.7 669.7 L602.2 670.2 L603.0 670.8 L604.0 671.4 L605.5 672.0 L607.5 672.5 L609.8 673.0 L612.2 673.4 L614.7 673.9 L617.0 674.3 L619.0 674.8 L620.5 675.3 L621.5 675.9 L622.3 676.5 L622.7 677.2 L623.0 677.9 L623.2 678.5 L623.3 679.1 L623.4 679.6 L623.5 680.0" stroke="#4c4c4c" stroke-width="1.17" fill="none" />
<path d="M610.0 640.0 L614.7 641.6 L614.7 647.8" stroke="#4c4c4c" stroke-width="1.17" fill="none" />
<path d="M602.2 668.1 L603.0 668.3 L603.9 668.5 L605.1 668.8 L606.4 669.1 L607.8 669.4 L609.3 669.8 L610.7 670.2 L612.0 670.5 L613.3 670.8 L614.8 671.2 L616.3 671.5 L617.8 671.9 L619.2 672.2 L620.5 672.6 L621.6 673.1 L622.5 673.6 L623.1 674.2 L623.4 674.9 L623.5 675.7 L623.6 676.5 L623.5 677.3 L623.4 678.0 L623.3 678.6 L623.3 679.0" stroke="#4c4c4c" stroke-width="1.17" fill="none" />
<path d="M623.3 679.0 L614.7 701.0 L599.0 732.0" stroke="#4c4c4c" stroke-width="1.17" fill="none" />
<path d="M614.7 683.8 L608.4 700.2" stroke="#4c4c4c" stroke-width="1.17" fill="none" />
<path d="M601.4 671.3 L602.2 671.8 L603.4 672.4 L604.8 673.2 L606.3 674.0 L607.8 674.9 L609.3 675.8 L610.6 676.7 L611.6 677.5 L612.3 678.3 L612.9 679.2 L613.4 680.1 L613.8 681.0 L614.1 681.9 L614.3 682.7 L614.5 683.3 L614.7 683.8" stroke="#4c4c4c" stroke-width="1.17" fill="none" />
<circle cx="536.0" cy="700.2" r="12.6" stroke="#3a3a3a" stroke-width="1.35" fill="none"/>
<circle cx="536.0" cy="700.2" r="16.0" stroke="#3a3a3a" stroke-width="1.35" fill="none"/>
<path d="M473.8 700.2 L603.8 700.2" stroke="#4c4c4c" stroke-width="1.35" fill="none" />
<circle cx="536.0" cy="700.2" r="45.0" stroke="#444" stroke-width="1.125" fill="none" stroke-dasharray="5 2.5"/>
<path d="M505.6 686.7 L506.3 685.8 L506.7 684.9 L506.9 683.9 L506.9 683.0 L506.5 682.3 L506.0 681.7 L505.4 681.1 L505.0 680.5 L504.8 679.7 L504.9 678.7 L505.5 677.6 L506.2 676.7 L507.1 676.0 L508.0 675.7 L508.8 675.8 L509.6 676.2 L510.3 676.6 L511.0 676.8 L511.8 676.9 L512.7 676.6 L513.6 676.0 L514.3 675.2 L514.8 674.4 L515.1 673.6 L515.0 672.8 L514.7 672.0 L514.4 671.3 L514.2 670.5 L514.3 669.7 L514.9 668.8 L515.8 668.0 L516.9 667.5 L518.0 667.2 L518.9 667.3 L519.6 667.7 L520.1 668.3 L520.6 668.9 L521.2 669.4 L522.0 669.7 L522.9 669.7 L524.0 669.5 L524.9 669.0 L525.7 668.4 L526.1 667.7 L526.3 666.9 L526.3 666.1 L526.3 665.3 L526.4 664.5 L526.9 663.8 L527.8 663.2 L528.9 662.9 L530.2 662.8 L531.2 663.0 L532.0 663.4 L532.4 664.1 L532.7 664.8 L533.0 665.6 L533.4 666.3 L534.0 666.8 L534.9 667.1 L536.0 667.2 L537.1 667.1 L538.0 666.8 L538.6 666.3 L539.0 665.6 L539.3 664.8 L539.6 664.1 L540.0 663.4 L540.8 663.0 L541.8 662.8 L543.1 662.9 L544.2 663.2 L545.1 663.8 L545.6 664.5 L545.7 665.3 L545.7 666.1 L545.7 666.9 L545.9 667.7 L546.3 668.4 L547.1 669.0 L548.0 669.5 L549.1 669.7 L550.0 669.7 L550.8 669.4 L551.4 668.9 L551.9 668.3 L552.4 667.7 L553.1 667.3 L554.0 667.2 L555.1 667.5 L556.2 668.0 L557.1 668.8 L557.7 669.7 L557.8 670.5 L557.6 671.3 L557.3 672.0 L557.0 672.8 L556.9 673.6 L557.2 674.4 L557.7 675.2 L558.4 676.0 L559.3 676.6 L560.2 676.9 L561.0 676.8 L561.7 676.6 L562.4 676.2 L563.2 675.8 L564.0 675.7 L564.9 676.0 L565.8 676.7 L566.5 677.6 L567.1 678.7 L567.2 679.7 L567.0 680.5 L566.6 681.1 L566.0 681.7 L565.5 682.3 L565.1 683.0 L565.1 683.9 L565.3 684.9 L565.7 685.8 L566.4 686.7" stroke="#3c3c3c" stroke-width="1.4249999999999998" fill="none" />
<path d="M508.7 690.3 L509.4 688.6 L510.2 687.0 L511.0 685.5 L512.0 684.0 L513.0 682.5 L514.1 681.2 L515.3 679.9 L516.6 678.6 L517.9 677.5 L519.4 676.4 L520.8 675.5 L522.4 674.6 L524.0 673.8 L525.6 673.1 L527.3 672.5 L529.0 672.1 L530.7 671.7 L532.5 671.4 L534.2 671.3 L536.0 671.2 L537.8 671.3 L539.5 671.4 L541.3 671.7 L543.0 672.1 L544.7 672.5 L546.4 673.1 L548.0 673.8 L549.6 674.6 L551.2 675.5 L552.6 676.4 L554.1 677.5 L555.4 678.6 L556.7 679.9 L557.9 681.2 L559.0 682.5 L560.0 684.0 L561.0 685.5 L561.8 687.0 L562.6 688.6 L563.3 690.3" stroke="#4c4c4c" stroke-width="1.35" fill="none" />
<path d="M521.3 688.2 L522.2 687.1 L523.2 686.1 L524.3 685.2 L525.4 684.4 L526.6 683.7 L527.9 683.0 L529.2 682.5 L530.5 682.0 L531.8 681.7 L533.2 681.4 L534.6 681.3 L536.0 681.2 L537.4 681.3 L538.8 681.4 L540.2 681.7 L541.5 682.0 L542.8 682.5 L544.1 683.0 L545.4 683.7 L546.6 684.4 L547.7 685.2 L548.8 686.1 L549.8 687.1 L550.7 688.2 L590.9 738.0 L592.6 740.1 L594.1 742.3 L595.6 744.5 L597.1 746.8 L598.4 749.2 L599.6 751.6 L600.8 754.0 L601.9 756.5 L602.8 759.0 L603.7 761.5 L604.5 764.1 L605.1 766.7 L605.7 769.4 L606.2 772.0 L606.6 774.7 L606.8 777.4 L607.0 780.1 L607.1 782.8 L607.1 785.5 L606.9 788.2 L606.7 790.8 L606.4 793.5 L606.0 796.2 L605.4 798.8 L604.8 801.4 L604.1 804.0 L603.2 806.6 L602.3 809.1 L601.3 811.6 L600.2 814.1 L599.0 816.5 L597.7 818.9 L596.3 821.2 L594.9 823.5 L593.3 825.7 L591.7 827.8 L590.0 829.9 L588.2 831.9 L586.3 833.9 L584.4 835.8 L582.4 837.6 L580.3 839.3 L578.2 840.9 L576.0 842.5 L573.7 844.0 L571.4 845.4 L569.1 846.7 L566.7 847.9 L564.2 849.1 L561.7 850.1 L559.2 851.0 L556.7 851.9 L554.1 852.6 L551.4 853.3 L548.8 853.8 L546.1 854.3 L543.5 854.6 L540.8 854.9 L538.1 855.0 L535.4 855.1 L532.7 855.0 L530.0 854.9 L527.3 854.6 L524.7 854.3 L522.0 853.8 L519.4 853.3 L516.7 852.6 L514.1 851.9 L511.6 851.0 L509.1 850.1 L506.6 849.1 L504.1 847.9 L501.7 846.7 L499.4 845.4 L497.1 844.0 L494.8 842.5 L492.6 840.9 L490.5 839.3 L488.4 837.6 L486.4 835.8 L484.5 833.9 L482.6 831.9 L480.8 829.9 L479.1 827.8 L477.5 825.7 L475.9 823.5 L474.5 821.2 L473.1 818.9 L471.8 816.5 L470.6 814.1 L469.5 811.6 L468.5 809.1 L467.6 806.6 L466.7 804.0 L466.0 801.4 L465.4 798.8 L464.8 796.2 L464.4 793.5 L464.1 790.8 L463.9 788.2 L463.7 785.5 L463.7 782.8 L463.8 780.1 L464.0 777.4 L464.2 774.7 L464.6 772.0 L465.1 769.4 L465.7 766.7 L466.3 764.1 L467.1 761.5 L468.0 759.0 L468.9 756.5 L470.0 754.0 L471.2 751.6 L472.4 749.2 L473.7 746.8 L475.2 744.5 L476.7 742.3 L478.2 740.1 L479.9 738.0 Z" stroke="#4c4c4c" stroke-width="1.6500000000000001" fill="none" />
<path d="M572.5 738.3 L574.4 739.9 L576.1 741.5 L577.8 743.2 L584.0 737.3 L586.1 739.6 L588.1 742.0 L589.9 744.5 L582.9 749.5 L584.3 751.5 L585.6 753.5 L586.7 755.6 L594.3 751.5 L595.7 754.2 L597.0 757.1 L598.2 759.9 L590.1 762.9 L590.9 765.2 L591.6 767.5 L592.2 769.8 L600.6 767.8 L601.2 770.8 L601.7 773.9 L602.1 777.0 L593.5 777.8 L593.7 780.2 L593.8 782.6 L593.8 785.0 L602.4 785.2 L602.2 788.3 L601.9 791.4 L601.5 794.5 L593.0 793.0 L592.6 795.4 L592.0 797.7 L591.4 800.0 L599.6 802.5 L598.7 805.4 L597.6 808.3 L596.4 811.2 L588.5 807.6 L587.5 809.8 L586.4 811.9 L585.2 814.0 L592.5 818.5 L590.8 821.1 L589.0 823.6 L587.1 826.0 L580.5 820.5 L578.9 822.4 L577.3 824.1 L575.6 825.8 L581.5 832.0 L579.2 834.1 L576.8 836.1 L574.3 837.9 L569.3 830.9 L567.3 832.3 L565.3 833.6 L563.2 834.7 L567.3 842.3 L564.6 843.7 L561.7 845.0 L558.9 846.2 L555.9 838.1 L553.6 838.9 L551.3 839.6 L549.0 840.2 L551.0 848.6 L548.0 849.2 L544.9 849.7 L541.8 850.1 L541.0 841.5 L538.6 841.7 L536.2 841.8 L533.8 841.8 L533.6 850.4 L530.5 850.2 L527.4 849.9 L524.3 849.5 L525.8 841.0 L523.4 840.6 L521.1 840.0 L518.8 839.4 L516.3 847.6 L513.4 846.7 L510.5 845.6 L507.6 844.4 L511.2 836.5 L509.0 835.5 L506.9 834.4 L504.8 833.2 L500.3 840.5 L497.7 838.8 L495.2 837.0 L492.8 835.1 L498.3 828.5 L496.4 826.9 L494.7 825.3 L493.0 823.6 L486.8 829.5 L484.7 827.2 L482.7 824.8 L480.9 822.3 L487.9 817.3 L486.5 815.3 L485.2 813.3 L484.1 811.2 L476.5 815.3 L475.1 812.6 L473.8 809.7 L472.6 806.9 L480.7 803.9 L479.9 801.6 L479.2 799.3 L478.6 797.0 L470.2 799.0 L469.6 796.0 L469.1 792.9 L468.7 789.8 L477.3 789.0 L477.1 786.6 L477.0 784.2 L477.0 781.8 L468.4 781.6 L468.6 778.5 L468.9 775.4 L469.3 772.3 L477.8 773.8 L478.2 771.4 L478.8 769.1 L479.4 766.8 L471.2 764.3 L472.1 761.4 L473.2 758.5 L474.4 755.6" stroke="#4c4c4c" stroke-width="1.5" fill="none" />
<circle cx="535.4" cy="783.4" r="15.9" stroke="#555" stroke-width="1.125" fill="none"/>
<circle cx="536.0" cy="745.0" r="31.0" stroke="#666" stroke-width="0.8999999999999999" fill="none"/>
<path d="M512.5 726.5 L516.0 726.5 L516.0 719.6 L522.5 719.3 L522.5 726.3 L529.0 726.3 L529.0 719.2 L535.6 719.2 L535.6 726.3 L541.5 726.3 L541.5 719.2 L548.0 719.3 L548.0 726.3 L554.0 726.0 L554.0 721.5 L559.0 723.5" stroke="#4c4c4c" stroke-width="1.5" fill="none" />
<path d="M511.0 725.5 L511.8 725.8 L512.9 726.2 L514.2 726.7 L515.7 727.2 L517.2 727.7 L518.8 728.2 L520.4 728.7 L522.0 729.0 L523.6 729.3 L525.2 729.5 L526.8 729.6 L528.5 729.8 L530.3 729.9 L532.0 729.9 L533.7 730.0 L535.4 730.0 L537.1 730.0 L538.8 730.0 L540.6 729.9 L542.3 729.8 L544.1 729.7 L545.8 729.5 L547.4 729.3 L549.0 729.0 L550.6 728.6 L552.2 728.1 L553.8 727.5 L555.4 726.9 L556.8 726.3 L558.1 725.8 L559.2 725.3 L560.0 725.0" stroke="#4c4c4c" stroke-width="1.35" fill="none" />
<path d="M427.0 782.2 L650.0 784.6" stroke="#444" stroke-width="1.2000000000000002" fill="none" stroke-dasharray="7 2 1.5 2" />
<path d="M437.0 747.5 L645.0 824.8" stroke="#444" stroke-width="1.2000000000000002" fill="none" stroke-dasharray="7 2 1.5 2" />
<path d="M520.8 751.6 L529.7 770.6" stroke="#444" stroke-width="1.35" fill="none" stroke-dasharray="4 2.5" />
<path d="M508.1 724.9 L513.0 736.5" stroke="#222" stroke-width="3.3000000000000003" fill="none" />
<path d="M510.5 738.5 L515.8 735.5 L514.6 741.8 Z" stroke="#222" stroke-width="0.8999999999999999" fill="#222" />
<path d="M499.0 716.5 L504.5 710.5 L505.5 718.5 L501.0 712.5" stroke="#222" stroke-width="2.4000000000000004" fill="none" />
<path d="M507.0 724.0 L512.0 722.0 L514.5 727.0" stroke="#4c4c4c" stroke-width="1.35" fill="none" />
<text x="517" y="750" font-family="Liberation Sans, sans-serif" font-weight="bold" font-size="9.6" fill="#111" text-anchor="middle" transform="rotate(-18 517 747)">PMS</text>
<path d="M488.6 699.5 L487.8 699.5 L486.7 699.4 L485.3 699.3 L483.9 699.2 L482.3 699.2 L480.9 699.2 L479.5 699.3 L478.4 699.5 L477.4 699.8 L476.5 700.2 L475.7 700.7 L475.0 701.3 L474.3 701.9 L473.7 702.6 L473.1 703.3 L472.7 704.0 L472.3 704.8 L472.1 705.7 L471.9 706.6 L471.8 707.6 L471.7 708.6 L471.7 709.6 L471.8 710.6 L472.0 711.6 L472.3 712.5 L472.8 713.5 L473.4 714.4 L474.1 715.3 L474.7 716.3 L475.3 717.2 L475.7 718.2 L475.9 719.2 L475.9 720.2 L475.8 721.2 L475.6 722.3 L475.3 723.3 L474.9 724.4 L474.5 725.6 L473.9 726.8 L473.3 728.1 L472.6 729.5 L471.8 731.0 L470.8 732.6 L469.8 734.2 L468.8 735.9 L467.7 737.5 L466.7 739.2 L465.7 740.8 L464.7 742.4 L463.7 744.0 L462.7 745.6 L461.7 747.1 L460.7 748.7 L459.8 750.3 L458.9 751.9 L458.1 753.5 L457.4 755.1 L456.7 756.6 L456.1 758.1 L455.6 759.6 L455.1 761.1 L454.6 762.7 L454.1 764.4 L453.7 766.2 L453.3 768.2 L452.9 770.4 L452.5 772.7 L452.1 775.0 L451.8 777.3 L451.5 779.5 L451.3 781.6 L451.1 783.3 L451.0 784.8 L451.0 786.0 L451.1 787.1 L451.2 788.1 L451.3 789.0 L451.3 789.9 L451.3 790.7 L451.1 791.6 L450.8 792.5 L450.5 793.3 L450.1 794.1 L449.6 794.8 L449.1 795.6 L448.5 796.3 L447.9 797.1 L447.3 798.0 L446.6 798.9 L445.8 799.9 L444.9 800.9 L444.0 801.9 L443.1 802.9 L442.2 804.0 L441.5 805.0 L441.0 806.0 L440.6 807.0 L440.3 808.0 L440.1 809.0 L440.0 810.1 L440.0 811.1 L440.0 812.1 L440.1 813.0 L440.3 814.0 L440.5 815.0 L440.8 815.9 L441.2 816.9 L441.7 817.8 L442.2 818.7 L442.7 819.6 L443.3 820.3 L444.0 821.0 L444.7 821.6 L445.5 822.1 L446.4 822.6 L447.3 823.0 L448.2 823.4 L449.2 823.7 L450.1 823.9 L451.0 824.0 L451.9 824.0 L452.8 824.0 L453.7 823.9 L454.6 823.7 L455.5 823.5 L456.4 823.2 L457.2 822.9 L458.0 822.5 L458.7 822.0 L459.4 821.4 L460.0 820.7 L460.6 820.0 L461.2 819.3 L461.8 818.7 L462.4 818.3 L463.0 818.0 L463.6 817.8 L464.1 817.7 L464.7 817.7 L465.2 817.7 L465.8 817.9 L466.4 818.4 L467.1 819.0 L468.0 820.0 L469.0 821.4 L470.1 823.1 L471.2 825.1 L472.4 827.3 L473.7 829.6 L475.1 831.9 L476.5 834.0 L478.0 836.0 L479.5 837.8 L481.2 839.6 L482.9 841.3 L484.6 843.0 L486.4 844.6 L488.3 846.1 L490.1 847.6 L492.0 849.0 L493.9 850.3 L495.8 851.5 L497.8 852.7 L499.8 853.8 L501.8 854.8 L503.8 855.8 L505.9 856.7 L508.0 857.5 L510.2 858.3 L512.5 859.0 L514.8 859.7 L517.1 860.2 L519.5 860.8 L521.7 861.2 L523.9 861.7 L526.0 862.0 L528.0 862.2 L529.9 862.3 L531.9 862.3 L533.7 862.3 L535.4 862.3 L537.1 862.3 L538.6 862.3 L540.0 862.5 L541.2 862.8 L542.3 863.1 L543.3 863.4 L544.1 863.8 L544.9 864.3 L545.6 864.8 L546.3 865.4 L547.0 866.0 L547.6 866.7 L548.1 867.6 L548.6 868.5 L549.0 869.4 L549.4 870.4 L549.9 871.3 L550.4 872.2 L551.0 873.0 L551.7 873.7 L552.5 874.4 L553.4 875.1 L554.2 875.8 L555.2 876.3 L556.1 876.8 L557.1 877.2 L558.0 877.5 L559.0 877.7 L560.0 877.7 L561.1 877.7 L562.1 877.6 L563.2 877.4 L564.2 877.2 L565.1 876.9 L566.0 876.5 L566.8 876.1 L567.6 875.5 L568.3 874.9 L568.9 874.2 L569.5 873.5 L570.1 872.7 L570.6 871.9 L571.0 871.0 L571.3 870.0 L571.5 868.9 L571.5 867.8 L571.6 866.6 L571.6 865.3 L571.6 864.2 L571.8 863.0 L572.0 862.0 L572.3 861.1 L572.6 860.3 L572.8 859.5 L573.2 858.8 L573.6 858.0 L574.2 857.3 L575.0 856.4 L576.0 855.5 L577.3 854.5 L578.8 853.4 L580.6 852.4 L582.4 851.2 L584.4 850.0 L586.3 848.8 L588.2 847.4 L590.0 846.0 L591.7 844.5 L593.4 842.8 L595.2 841.1 L596.9 839.3 L598.5 837.4 L600.1 835.6 L601.6 833.8 L603.0 832.0 L604.3 830.2 L605.5 828.3 L606.6 826.4 L607.6 824.5 L608.6 822.7 L609.5 820.9 L610.3 819.4 L611.0 818.0 L611.6 816.8 L612.0 815.8 L612.3 814.9 L612.6 814.2 L612.8 813.5 L613.1 812.9 L613.5 812.4 L614.0 812.0 L614.6 811.7 L615.4 811.5 L616.1 811.5 L617.0 811.6 L617.8 811.6 L618.7 811.7 L619.6 811.6 L620.5 811.5 L621.4 811.3 L622.4 811.0 L623.4 810.7 L624.4 810.4 L625.4 810.0 L626.3 809.6 L627.2 809.1 L628.0 808.5 L628.7 807.9 L629.3 807.1 L629.9 806.3 L630.5 805.5 L631.0 804.6 L631.4 803.7 L631.7 802.9 L632.0 802.0 L632.2 801.1 L632.3 800.3 L632.3 799.4 L632.3 798.5 L632.2 797.6 L632.0 796.7 L631.8 795.8 L631.6 795.0 L631.3 794.2 L631.0 793.4 L630.6 792.6 L630.2 791.8 L629.7 791.0 L629.2 790.3 L628.6 789.6 L628.0 789.0 L627.3 788.4 L626.5 788.0 L625.6 787.5 L624.7 787.1 L623.8 786.7 L622.9 786.3 L622.1 785.8 L621.4 785.2 L620.8 784.6 L620.2 784.0 L619.7 783.3 L619.2 782.6 L618.8 781.9 L618.4 781.0 L618.0 780.0 L617.6 778.9 L617.2 777.6 L616.9 776.2 L616.6 774.7 L616.4 773.1 L616.1 771.4 L615.8 769.7 L615.5 768.0 L615.1 766.2 L614.7 764.4 L614.3 762.5 L613.9 760.6 L613.5 758.6 L613.1 756.6 L612.5 754.7 L612.0 752.8 L611.3 751.0 L610.5 749.3 L609.7 747.6 L608.7 745.9 L607.7 744.3 L606.7 742.7 L605.7 741.1 L604.7 739.7 L603.7 738.3 L602.7 737.0 L601.7 735.7 L600.6 734.5 L599.5 733.4 L598.5 732.3 L597.6 731.3 L596.7 730.3 L596.0 729.4 L595.4 728.6 L594.9 727.9 L594.4 727.4 L594.0 726.8 L593.7 726.3 L593.6 725.8 L593.5 725.1 L593.5 724.3 L593.7 723.4 L594.1 722.3 L594.5 721.2 L595.1 720.1 L595.7 718.9 L596.3 717.7 L596.9 716.5 L597.3 715.4 L597.7 714.3 L598.1 713.1 L598.5 711.9 L598.8 710.8 L599.1 709.6 L599.3 708.5 L599.3 707.5 L599.2 706.5 L598.9 705.6 L598.4 704.7 L597.7 703.9 L596.9 703.1 L596.1 702.4 L595.2 701.8 L594.4 701.2 L593.5 700.8 L592.6 700.5 L591.6 700.3 L590.5 700.2 L589.3 700.1 L588.3 700.2 L587.3 700.2 L586.5 700.2 L585.9 700.2" stroke="#505050" stroke-width="1.2000000000000002" fill="none" />
<circle cx="484.0" cy="710.0" r="3.4" stroke="#222" stroke-width="1.7999999999999998" fill="none"/>
<path d="M478.5 710.0 L489.5 710.0" stroke="#444" stroke-width="0.8999999999999999" fill="none" />
<path d="M484.0 704.5 L484.0 715.5" stroke="#444" stroke-width="0.8999999999999999" fill="none" />
<circle cx="588.3" cy="711.2" r="3.4" stroke="#222" stroke-width="1.7999999999999998" fill="none"/>
<path d="M582.8 711.2 L593.8 711.2" stroke="#444" stroke-width="0.8999999999999999" fill="none" />
<path d="M588.3 705.7 L588.3 716.7" stroke="#444" stroke-width="0.8999999999999999" fill="none" />
<circle cx="620.5" cy="799.4" r="3.4" stroke="#222" stroke-width="1.7999999999999998" fill="none"/>
<path d="M615.0 799.4 L626.0 799.4" stroke="#444" stroke-width="0.8999999999999999" fill="none" />
<path d="M620.5 793.9 L620.5 804.9" stroke="#444" stroke-width="0.8999999999999999" fill="none" />
<circle cx="452.0" cy="812.2" r="3.4" stroke="#222" stroke-width="1.7999999999999998" fill="none"/>
<path d="M446.5 812.2 L457.5 812.2" stroke="#444" stroke-width="0.8999999999999999" fill="none" />
<path d="M452.0 806.7 L452.0 817.7" stroke="#444" stroke-width="0.8999999999999999" fill="none" />
<circle cx="560.4" cy="866.7" r="3.4" stroke="#222" stroke-width="1.7999999999999998" fill="none"/>
<path d="M554.9 866.7 L565.9 866.7" stroke="#444" stroke-width="0.8999999999999999" fill="none" />
<path d="M560.4 861.2 L560.4 872.2" stroke="#444" stroke-width="0.8999999999999999" fill="none" />
<path d="M642.4 811.1 L641.7 813.4 L641.0 815.8 L640.3 818.1 L639.5 820.5 L638.6 822.8 L637.7 825.1 L636.8 827.3 L635.8 829.6 L634.7 831.8 L633.6 834.0 L632.5 836.2 L631.3 838.3 L630.0 840.4 L628.7 842.5 L627.4 844.6 L626.0 846.6 L624.6 848.6 L623.1 850.6 L621.6 852.5 L620.0 854.4 L618.4 856.3 L616.8 858.1 L615.1 859.9 L613.4 861.7 L611.6 863.4 L609.8 865.1 L608.0 866.7 L606.1 868.3 L604.2 869.8 L602.3 871.4 L600.3 872.8 L598.3 874.2 L596.3 875.6 L594.2 877.0 L592.1 878.2 L590.0 879.5 L587.8 880.7 L585.7 881.8 L583.4 882.9 L581.2 884.0 L579.0 884.9 L576.7 885.9 L574.4 886.8 L572.1 887.6 L569.8 888.4 L567.4 889.2 L565.1 889.8 L562.7 890.5 L560.3 891.1 L557.9 891.6 L555.5 892.1 L553.1 892.5 L550.6 892.8 L548.2 893.2 L545.8 893.4 L543.3 893.6 L540.8 893.8 L538.4 893.9 L535.9 893.9 L533.5 893.9 L531.0 893.8 L528.6 893.7 L526.1 893.5 L523.7 893.3 L521.2 893.0 L518.8 892.6 L516.4 892.2 L513.9 891.8 L511.5 891.3 L509.1 890.7 L506.8 890.1 L504.4 889.5 L502.0 888.7 L499.7 888.0 L497.4 887.2 L495.1 886.3 L492.8 885.4 L490.5 884.4 L488.3 883.4 L486.1 882.3 L483.9 881.2 L481.7 880.0 L479.6 878.8 L477.5 877.5 L475.4 876.2 L473.4 874.8 L471.4 873.4 L469.4 872.0 L467.4 870.5 L465.5 869.0 L463.6 867.4 L461.7 865.8 L459.9 864.1 L458.2 862.4 L456.4 860.7 L454.7 858.9 L453.1 857.1 L451.4 855.2 L449.9 853.4 L448.3 851.4 L446.8 849.5 L445.4 847.5 L444.0 845.5 L442.6 843.4 L441.3 841.3 L440.0 839.2 L438.8 837.1 L437.7 834.9 L436.5 832.7 L435.5 830.5 L434.4 828.3 L433.5 826.0 L432.5 823.8 L431.7 821.5 L430.8 819.1 L430.1 816.8 L429.4 814.5 L428.7 812.1 L428.1 809.7 L427.5 807.3" stroke="#505050" stroke-width="1.2000000000000002" fill="none" />
<path d="M427.5 807.3 L450.5 796.7 L463.2 785.2" stroke="#4c4c4c" stroke-width="1.17" fill="none" />
<path d="M603.5 808.5 L642.3 811.0 L638.5 818.0" stroke="#4c4c4c" stroke-width="1.17" fill="none" />
<path d="M631.0 803.5 L642.3 811.0" stroke="#4c4c4c" stroke-width="1.17" fill="none" />
<path d="M629.0 807.0 L626.0 817.5" stroke="#4c4c4c" stroke-width="1.17" fill="none" />
<path d="M456.8 754.8 L467.0 758.6" stroke="#4c4c4c" stroke-width="1.17" fill="none" />
<path d="M502.6 733.2 L501.7 733.9 L500.5 734.9 L499.1 736.0 L497.5 737.3 L495.8 738.7 L494.2 740.2 L492.5 741.7 L491.0 743.3 L489.5 745.1 L487.9 747.1 L486.2 749.3 L484.6 751.6 L483.1 753.8 L481.7 755.7 L480.6 757.4 L479.7 758.6" stroke="#4c4c4c" stroke-width="1.17" fill="none" />
<path d="M491.0 724.3 L490.5 725.3 L489.9 726.7 L489.2 728.3 L488.3 730.1 L487.5 732.0 L486.6 734.0 L485.8 736.0 L485.0 738.0 L484.3 740.1 L483.5 742.4 L482.7 744.8 L482.0 747.3 L481.3 749.6 L480.6 751.7 L480.1 753.5 L479.7 754.8" stroke="#444" stroke-width="1.2000000000000002" fill="none" />
<path d="M585.9 690.0 L585.9 728.0" stroke="#4c4c4c" stroke-width="1.17" fill="none" />
<path d="M585.9 700.8 L604.8 700.8" stroke="#4c4c4c" stroke-width="1.17" fill="none" />
<path d="M604.8 700.8 L605.0 701.0 L605.2 701.2 L605.5 701.5 L605.7 701.8 L606.0 702.2 L606.3 702.6 L606.4 703.0 L606.5 703.5 L606.5 704.0 L606.5 704.4 L606.4 704.8 L606.3 705.3 L606.1 705.9 L605.8 706.7 L605.4 707.7 L605.0 709.0 L604.4 710.8 L603.6 713.0 L602.7 715.6 L601.7 718.2 L600.7 720.9 L599.9 723.3 L599.1 725.3 L598.6 726.8" stroke="#4c4c4c" stroke-width="1.17" fill="none" />
<path d="M610.0 700.8 L618.9 690.0" stroke="#4c4c4c" stroke-width="1.17" fill="none" />
<path d="M589.7 715.0 L589.7 715.5 L589.7 716.1 L589.6 716.8 L589.6 717.6 L589.6 718.5 L589.6 719.4 L589.6 720.2 L589.7 721.0 L589.8 721.7 L589.9 722.5 L590.0 723.3 L590.1 724.0 L590.3 724.8 L590.5 725.5 L590.7 726.2 L591.0 726.8 L591.4 727.4 L591.9 728.1 L592.5 728.7 L593.1 729.3 L593.7 729.8 L594.2 730.3 L594.7 730.7 L595.0 731.0" stroke="#4c4c4c" stroke-width="1.17" fill="none" />
<path d="M261.1 262.4 L345.5 262.4" stroke="#222" stroke-width="2.25" fill="none" />
<path d="M345.5 262.4 L388.8 290.9" stroke="#222" stroke-width="1.7999999999999998" fill="none" />
<path d="M393.0 293.6 L387.7 292.5 L389.9 289.2 Z" stroke="#222" stroke-width="0.44999999999999996" fill="#222" />
<path d="M261.1 338.9 L345.5 338.9" stroke="#333" stroke-width="1.5" fill="none" />
<path d="M345.5 338.9 L391.2 312.5" stroke="#222" stroke-width="1.9500000000000002" fill="none" />
<path d="M395.5 310.0 L392.2 314.2 L390.2 310.8 Z" stroke="#222" stroke-width="0.44999999999999996" fill="#222" />
<path d="M756.2 234.0 L682.2 234.0" stroke="#333" stroke-width="2.25" fill="none" />
<path d="M682.2 234.0 L671.0 257.0" stroke="#222" stroke-width="1.7999999999999998" fill="none" />
<path d="M668.8 261.5 L669.2 256.1 L672.8 257.9 Z" stroke="#222" stroke-width="0.44999999999999996" fill="#222" />
<path d="M371.5 280.4 L374.5 282.3" stroke="#222" stroke-width="2.4000000000000004" fill="none" />
<path d="M360.5 329.6 L363.5 328.0" stroke="#222" stroke-width="2.4000000000000004" fill="none" />
<circle cx="479.8" cy="807.6" r="0.9" stroke="#111" stroke-width="0.75" fill="#111"/>
<path d="M657.6 350.3 L654.1 363.8 L650.1 377.2 L645.8 390.3 L642.4 402.6 L639.1 416.3 L635.6 429.4 L632.3 443.2 L628.4 457.0 L624.8 470.5 L622.0 483.3 L619.1 497.3 L616.5 512.1 L613.5 526.4" stroke="#444" stroke-width="1.2000000000000002" fill="none" stroke-dasharray="7 2.5" />
</g>
</svg>
</body></html>
